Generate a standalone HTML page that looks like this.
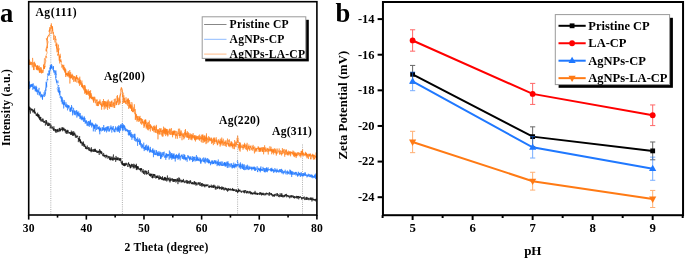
<!DOCTYPE html>
<html><head><meta charset="utf-8"><style>html,body{margin:0;padding:0;background:#fff;width:685px;height:259px;overflow:hidden}svg{display:block} #w{will-change:transform;width:685px;height:259px}</style></head><body><div id="w">
<svg width="685" height="259" viewBox="0 0 685 259">
<rect width="685" height="259" fill="#fff"/>
<line x1="50.8" y1="33" x2="50.8" y2="214.0" stroke="#9a9a9a" stroke-width="0.8" stroke-dasharray="1,1.2"/>
<line x1="122.4" y1="92" x2="122.4" y2="214.0" stroke="#9a9a9a" stroke-width="0.8" stroke-dasharray="1,1.2"/>
<line x1="237.6" y1="135.5" x2="237.6" y2="214.0" stroke="#9a9a9a" stroke-width="0.8" stroke-dasharray="1,1.2"/>
<line x1="302.5" y1="144.5" x2="302.5" y2="214.0" stroke="#9a9a9a" stroke-width="0.8" stroke-dasharray="1,1.2"/>
<polyline points="28.97,112.25 29.13,106.48 29.28,110.18 29.47,108.92 29.57,109.04 29.78,109.31 29.88,107.03 30.05,109.25 30.21,108.43 30.35,113.64 30.51,109.75 30.63,109.00 30.76,109.07 30.94,108.56 31.07,108.05 31.24,108.86 31.42,109.93 31.54,109.00 31.69,110.48 31.83,109.00 31.99,109.26 32.14,111.14 32.10,110.01 32.48,108.88 32.43,109.48 32.77,110.57 32.82,112.50 33.19,109.93 33.32,110.16 33.34,111.90 33.47,109.73 33.70,110.66 34.00,112.32 34.10,112.13 34.11,111.71 34.29,112.62 34.63,108.44 34.29,113.44 34.77,111.15 34.71,110.46 35.20,113.08 35.07,113.80 35.28,112.55 35.28,111.95 35.60,113.52 35.86,113.61 36.15,115.62 35.85,114.99 36.13,114.49 36.94,115.82 36.64,114.36 36.65,113.65 36.87,115.73 36.62,115.88 37.30,115.04 37.27,114.48 37.22,115.90 37.69,112.65 37.62,116.78 37.72,116.69 38.06,114.18 38.20,116.46 38.24,115.33 38.44,117.63 38.43,114.30 38.57,115.85 39.01,118.03 39.21,118.74 39.25,114.75 39.40,116.98 39.45,118.17 39.63,117.15 39.69,120.05 40.17,116.73 40.03,118.81 40.30,117.21 40.40,120.44 40.38,118.80 40.94,118.52 40.80,116.99 40.91,121.39 41.16,120.39 41.20,120.54 41.45,121.16 41.52,120.27 41.80,119.14 41.90,119.04 41.94,119.14 42.28,121.95 42.37,118.51 42.41,119.70 42.68,120.14 42.84,120.92 43.10,121.46 43.03,119.28 43.32,118.78 43.39,121.04 43.60,122.67 43.68,122.20 43.85,121.62 44.04,121.06 44.05,121.92 44.13,121.35 44.45,122.78 44.56,120.86 44.76,122.13 44.95,121.92 45.03,122.84 45.30,122.54 45.35,125.55 45.51,124.34 45.72,124.44 45.85,120.12 45.95,122.34 46.11,122.08 46.21,123.57 46.37,120.13 46.56,124.51 46.74,124.44 46.83,121.54 47.05,122.01 47.25,122.30 47.41,123.42 47.45,124.23 47.66,126.06 47.78,123.32 47.94,124.59 48.10,123.89 48.23,125.96 48.40,124.75 48.51,125.60 48.64,122.61 48.82,123.78 48.98,123.07 49.17,126.03 49.27,125.04 49.44,123.90 49.63,123.78 49.65,125.02 49.83,123.60 50.13,123.54 50.17,125.62 50.06,128.40 50.71,125.33 50.60,125.25 50.52,124.79 51.38,124.89 50.75,127.53 51.21,128.24 51.20,127.50 51.52,128.22 51.68,128.01 51.76,128.11 51.95,126.10 52.10,127.51 52.20,128.29 52.47,127.24 52.56,127.69 52.69,127.33 52.82,128.01 52.98,129.56 53.16,128.06 53.28,128.44 53.52,129.72 53.46,129.58 53.63,130.96 53.89,126.30 53.95,130.05 54.20,128.45 54.32,129.29 54.53,130.24 54.68,130.61 54.88,130.63 55.00,129.59 55.17,131.48 55.28,129.18 55.46,129.43 55.58,130.67 55.67,129.06 55.78,132.52 55.94,131.16 56.18,132.67 56.17,129.99 56.46,129.61 56.56,130.37 56.79,131.15 56.91,129.57 57.04,130.76 57.20,130.25 57.32,132.28 57.50,129.41 57.66,131.53 57.78,129.41 57.96,129.00 58.10,129.29 58.25,128.68 58.38,130.34 58.56,131.43 58.71,130.33 58.85,130.89 58.99,132.13 59.16,130.42 59.32,130.31 59.46,129.71 59.61,128.02 59.74,130.97 59.90,127.81 60.06,130.81 60.20,129.96 60.38,131.37 60.51,129.86 60.64,128.90 60.81,130.36 60.94,129.20 61.11,129.66 61.26,129.92 61.40,129.69 61.55,129.61 61.69,128.79 61.85,129.58 61.99,127.13 62.17,129.59 62.31,128.27 62.45,131.15 62.58,131.33 62.78,127.29 62.90,129.89 63.06,129.56 63.21,128.46 63.36,130.48 63.49,129.29 63.73,127.71 63.81,129.63 63.90,129.83 64.08,130.20 64.15,128.58 64.43,130.94 64.58,131.14 64.78,128.83 64.94,129.49 64.97,130.27 65.17,129.71 65.34,132.65 65.49,130.78 65.58,129.30 65.79,129.63 65.92,130.59 66.11,133.59 66.20,130.54 66.34,130.98 66.48,131.51 66.64,130.87 66.77,133.84 66.94,130.38 67.13,132.04 67.28,131.38 67.47,132.01 67.61,129.83 67.74,133.58 67.80,131.28 68.03,131.54 68.21,130.39 68.24,130.71 68.40,132.39 68.56,132.98 68.70,132.75 68.89,133.38 69.01,132.83 69.22,132.04 69.29,133.11 69.50,132.87 69.63,132.07 69.75,133.17 70.01,133.93 70.10,132.68 70.28,132.01 70.39,133.42 70.59,134.96 70.74,132.39 70.85,132.60 70.91,132.61 71.20,134.38 71.34,130.62 71.46,133.44 71.62,134.53 71.76,132.09 71.91,135.04 72.00,133.91 72.20,132.62 72.37,133.62 72.47,131.52 72.60,132.79 72.90,135.85 72.98,132.51 73.09,136.00 73.23,133.66 73.27,135.07 73.48,133.95 73.69,131.15 73.98,133.33 73.77,134.43 74.07,132.90 74.53,132.80 74.54,135.09 74.66,133.97 74.90,132.81 74.89,134.22 75.04,136.30 75.29,134.78 75.46,136.68 75.38,137.57 75.84,135.85 75.60,134.54 75.88,134.47 76.47,136.21 76.20,137.50 76.48,136.88 76.44,137.37 76.67,136.28 76.77,137.36 76.96,136.54 77.23,136.87 77.51,135.81 77.56,135.60 77.79,137.11 77.70,136.48 78.08,136.81 78.12,138.99 78.39,138.17 78.30,142.12 78.48,139.82 78.86,138.05 78.90,140.00 78.97,139.65 79.01,138.53 79.24,140.95 79.48,138.78 79.66,136.11 79.63,141.11 79.81,139.53 80.07,142.34 80.00,139.85 80.44,139.37 80.45,142.96 80.59,139.86 80.40,141.64 80.67,143.38 80.90,141.89 81.12,141.83 81.19,142.24 81.55,143.34 81.67,141.47 81.76,143.42 81.66,143.56 82.29,145.93 82.21,142.75 82.48,142.20 82.46,144.43 82.70,143.18 82.94,144.20 83.03,144.17 83.28,145.63 83.28,143.51 83.71,144.38 83.35,141.47 83.68,143.72 84.03,146.92 84.02,144.31 84.14,144.45 84.11,143.97 84.66,146.38 84.40,146.04 84.87,144.50 84.97,146.99 85.21,146.64 85.44,147.43 85.31,145.85 85.44,148.99 85.66,147.49 85.66,147.00 86.06,146.60 86.12,147.02 86.31,148.48 86.38,147.15 86.60,148.91 86.71,148.36 86.89,149.40 86.98,148.81 87.26,147.79 87.31,145.56 87.34,148.39 87.69,149.08 87.78,148.38 87.89,148.95 88.25,147.74 88.24,147.93 88.32,147.30 88.51,150.26 88.72,148.83 88.83,148.10 89.07,147.12 89.21,148.68 89.25,150.75 89.45,149.60 89.64,148.19 89.72,150.96 89.88,151.02 90.09,150.52 90.22,150.33 90.29,150.85 90.47,150.14 90.63,150.48 90.79,148.59 90.92,151.50 91.16,149.97 91.21,152.26 91.35,147.24 91.56,150.73 91.60,151.13 91.80,149.53 92.03,150.58 92.09,151.00 92.26,150.84 92.50,149.50 92.62,150.05 92.75,151.56 92.91,151.94 93.02,150.52 93.21,150.55 93.34,150.76 93.60,151.86 93.67,149.29 93.79,148.98 93.95,150.83 94.10,149.32 94.22,150.00 94.38,150.87 94.59,151.40 94.66,149.49 94.83,151.86 95.02,148.67 95.19,151.60 95.27,148.98 95.49,149.39 95.59,151.82 95.79,150.54 95.91,150.08 96.04,150.55 96.22,151.72 96.36,151.10 96.48,151.16 96.70,152.55 96.79,150.37 96.98,150.70 97.09,150.67 97.20,152.82 97.37,152.63 97.55,153.03 97.72,151.41 97.89,151.28 98.00,152.58 98.14,151.05 98.27,152.61 98.45,152.51 98.61,150.76 98.69,151.56 98.93,151.55 99.08,153.89 99.26,154.99 99.31,151.66 99.50,151.88 99.65,149.10 99.70,152.31 99.89,152.13 100.03,150.89 100.29,153.31 100.43,150.46 100.65,152.25 100.67,152.78 100.74,151.14 101.03,153.86 101.18,154.21 101.35,151.25 101.54,151.31 101.55,153.92 101.81,153.22 101.82,151.84 102.06,153.08 102.25,153.40 102.34,153.45 102.51,154.76 102.54,154.30 102.75,156.12 102.96,155.72 103.01,154.94 103.18,155.54 103.58,155.94 103.57,155.26 103.64,152.94 103.77,155.64 104.10,154.75 103.94,156.77 104.27,154.96 104.49,155.59 104.55,155.44 104.78,157.22 104.81,155.44 105.04,154.97 105.20,155.79 105.34,154.93 105.50,155.77 105.64,155.64 105.87,156.07 105.92,158.22 106.05,155.39 106.22,156.03 106.37,155.81 106.44,156.99 106.56,154.75 106.75,155.44 107.01,156.34 107.10,157.16 107.26,156.50 107.63,156.02 107.67,155.64 107.73,157.45 107.85,158.69 108.13,157.38 108.14,157.29 108.42,157.69 108.53,156.04 108.73,156.91 108.74,157.05 109.00,157.84 108.97,157.51 109.23,156.11 109.46,159.12 109.59,159.92 109.57,157.55 109.89,158.46 110.02,158.38 110.14,159.11 110.24,156.36 110.42,160.31 110.55,157.79 110.80,160.04 110.92,158.65 111.07,158.11 111.20,158.43 111.35,159.73 111.50,157.53 111.65,158.14 111.80,158.01 111.95,156.47 112.10,160.24 112.25,159.34 112.40,158.59 112.55,160.07 112.70,157.43 112.85,158.53 113.00,160.78 113.15,159.85 113.30,155.85 113.45,154.47 113.60,157.34 113.75,159.96 113.90,158.05 114.05,158.37 114.20,159.40 114.35,157.54 114.50,158.91 114.65,159.64 114.80,159.23 114.95,159.15 115.10,157.90 115.25,159.30 115.40,158.12 115.55,160.29 115.70,161.87 115.85,157.74 116.00,155.95 116.15,158.14 116.30,159.14 116.45,159.98 116.60,160.02 116.75,157.69 116.90,157.69 117.05,160.26 117.20,157.32 117.35,160.05 117.50,158.40 117.65,159.64 117.80,159.57 117.95,159.66 118.10,159.72 118.25,157.46 118.40,159.07 118.55,158.72 118.68,159.09 118.72,160.35 119.04,158.59 119.13,158.15 119.34,158.24 119.45,158.87 119.46,160.32 119.60,158.47 119.93,161.05 119.89,160.08 120.21,159.54 120.42,158.27 120.37,160.36 120.70,161.03 120.79,158.07 120.99,161.88 120.93,162.56 121.21,161.40 121.53,162.07 122.22,164.95 121.95,163.95 122.01,161.76 121.47,163.34 122.22,163.64 122.24,163.82 122.45,161.08 122.60,165.00 122.76,163.28 122.91,164.30 123.05,163.95 123.20,165.22 123.37,163.79 123.48,163.18 123.65,164.86 123.82,165.97 123.95,163.84 124.11,165.97 124.26,164.61 124.43,163.63 124.57,166.23 124.67,163.32 124.85,165.63 125.00,163.76 125.16,164.96 125.31,162.88 125.48,163.39 125.62,165.79 125.73,164.72 125.89,164.55 126.02,163.97 126.23,165.10 126.35,162.82 126.50,163.18 126.62,164.41 126.79,163.58 126.96,163.77 127.09,164.58 127.24,164.51 127.39,164.43 127.58,166.81 127.69,166.01 127.82,166.30 127.99,164.75 128.14,164.18 128.30,163.01 128.44,164.41 128.58,162.26 128.74,164.16 128.90,165.87 129.02,166.96 129.23,166.16 129.37,163.89 129.47,165.61 129.64,164.03 129.81,166.06 129.97,164.91 130.13,166.15 130.20,168.31 130.35,166.29 130.52,168.11 130.72,165.47 130.79,164.89 131.01,167.03 131.16,167.58 131.32,164.78 131.38,165.63 131.60,163.80 131.75,165.40 131.87,166.81 132.10,165.65 132.18,165.10 132.41,164.11 132.47,166.39 132.72,166.98 132.87,166.79 132.91,166.42 133.11,164.56 133.26,168.41 133.35,166.20 133.58,166.14 133.72,167.30 133.80,163.73 134.00,166.41 134.19,166.38 134.29,167.07 134.41,168.35 134.67,167.31 134.70,164.49 134.91,166.41 135.10,167.15 135.23,167.13 135.26,165.40 135.48,164.98 135.64,167.80 135.79,167.60 135.98,167.20 136.12,165.13 136.25,169.56 136.41,163.77 136.59,167.00 136.76,170.12 136.76,167.37 137.10,167.91 137.12,166.21 137.33,169.43 137.37,166.18 137.58,168.17 137.69,168.07 137.95,166.65 138.11,169.14 138.20,166.36 138.33,167.37 138.53,168.29 138.57,167.91 138.75,169.11 138.89,169.78 139.16,168.35 139.25,168.14 139.30,168.27 139.58,168.56 139.74,170.13 139.96,168.94 139.95,169.82 140.18,169.29 140.46,168.45 140.42,170.68 140.57,168.41 140.79,169.81 140.86,171.76 141.05,168.63 141.16,170.03 141.29,168.21 141.57,169.66 141.62,168.52 141.72,170.04 141.93,169.92 142.09,170.85 142.27,172.76 142.47,171.24 142.69,171.80 142.60,171.02 142.83,170.87 142.85,170.23 143.17,169.12 143.34,171.56 143.40,173.61 143.52,172.26 143.68,171.10 143.81,173.91 144.08,171.37 144.30,171.21 144.29,170.53 144.59,170.91 144.64,171.87 144.72,174.75 144.98,172.06 145.14,171.09 145.27,171.69 145.38,172.24 145.64,170.45 145.68,172.81 145.88,173.60 146.03,173.19 146.10,173.61 146.20,171.31 146.35,170.87 146.57,174.66 146.77,174.49 146.80,171.27 147.01,173.52 147.28,173.36 147.25,174.07 147.52,173.72 147.66,172.90 147.84,173.84 147.86,173.86 148.11,173.67 148.17,171.48 148.47,170.12 148.50,172.94 148.72,171.96 148.80,174.38 149.00,175.03 149.06,174.53 149.31,173.81 149.48,174.42 149.59,175.86 149.83,173.56 149.91,175.69 150.09,175.49 150.22,175.00 150.45,176.55 150.46,173.91 150.63,176.05 150.78,173.78 150.98,174.05 151.11,173.76 151.29,175.70 151.41,174.04 151.52,175.34 151.69,173.92 151.86,176.71 151.90,177.72 152.21,175.77 152.27,177.59 152.43,176.29 152.61,178.34 152.74,175.83 152.83,173.81 153.04,177.66 153.26,175.70 153.39,174.63 153.55,175.15 153.62,174.01 153.79,175.86 153.99,174.80 154.16,178.01 154.25,177.05 154.36,174.23 154.47,174.47 154.76,175.69 154.78,174.07 155.02,176.36 155.19,176.49 155.44,175.65 155.46,175.98 155.59,177.32 155.77,178.50 155.92,178.65 156.11,176.90 156.23,177.96 156.32,176.06 156.41,177.52 156.66,175.89 156.77,178.02 157.01,175.66 157.04,176.05 157.26,177.27 157.37,178.02 157.51,175.63 157.77,176.78 157.86,177.66 157.99,177.82 158.18,176.57 158.27,177.77 158.43,177.38 158.57,179.47 158.84,178.49 158.91,176.25 159.08,175.23 159.24,178.09 159.35,179.45 159.50,178.24 159.62,179.12 159.81,177.47 159.95,176.42 160.09,179.01 160.27,178.24 160.37,178.97 160.56,176.48 160.68,178.40 160.83,177.44 161.00,179.19 161.17,177.53 161.28,177.51 161.43,177.56 161.58,179.82 161.78,178.34 161.91,177.41 162.06,177.11 162.23,177.10 162.35,180.15 162.47,176.21 162.64,177.39 162.78,179.21 162.98,179.88 163.08,178.30 163.25,179.44 163.39,179.43 163.54,179.72 163.70,178.61 163.85,180.56 163.99,178.85 164.13,180.46 164.29,177.33 164.43,179.80 164.59,177.18 164.75,176.91 164.90,179.33 165.06,177.76 165.20,179.31 165.38,177.51 165.49,180.74 165.63,178.85 165.82,177.51 165.94,179.09 166.10,179.95 166.27,178.00 166.40,179.56 166.54,181.40 166.71,180.02 166.85,178.99 166.99,178.34 167.13,179.73 167.29,177.26 167.42,175.47 167.59,178.31 167.73,177.83 167.90,181.21 168.06,179.33 168.19,178.01 168.34,177.82 168.48,179.81 168.63,178.26 168.79,178.57 168.96,179.17 169.11,179.40 169.26,179.43 169.40,179.47 169.51,180.90 169.71,181.39 169.87,177.45 170.01,182.46 170.16,179.59 170.32,180.93 170.49,178.61 170.60,179.88 170.77,179.77 170.91,179.67 171.06,180.56 171.20,180.32 171.34,178.41 171.48,179.47 171.66,180.49 171.80,180.46 171.93,179.28 172.09,179.36 172.23,179.53 172.42,178.43 172.55,178.24 172.70,181.60 172.83,179.32 172.98,179.91 173.17,178.94 173.30,181.35 173.45,181.90 173.63,179.62 173.78,180.49 173.91,179.03 174.06,181.99 174.20,181.03 174.35,178.99 174.53,181.44 174.63,180.43 174.80,180.51 174.92,180.46 175.08,179.28 175.26,179.45 175.41,180.83 175.56,180.07 175.69,179.05 175.83,182.53 175.99,179.96 176.14,179.58 176.32,179.44 176.48,181.08 176.61,181.43 176.74,180.61 176.88,181.36 177.06,178.65 177.20,179.97 177.31,179.89 177.53,180.46 177.65,181.04 177.79,178.15 177.93,184.13 178.08,179.55 178.27,180.97 178.38,181.55 178.55,181.61 178.71,180.93 178.89,177.33 179.01,179.45 179.15,181.59 179.29,179.69 179.47,179.56 179.62,178.09 179.74,182.21 179.91,181.42 180.05,179.84 180.17,180.73 180.33,180.79 180.52,179.66 180.68,180.64 180.81,181.27 180.95,181.63 181.08,182.47 181.26,181.08 181.41,180.55 181.52,181.56 181.71,180.40 181.83,179.72 182.01,182.47 182.16,180.76 182.32,181.36 182.47,181.98 182.62,180.01 182.73,182.02 182.88,181.83 183.07,181.24 183.21,181.82 183.32,180.54 183.46,178.93 183.67,181.13 183.85,180.44 183.97,182.48 184.09,181.82 184.26,180.95 184.34,181.63 184.53,183.13 184.72,182.91 184.87,182.07 184.95,182.16 185.18,181.39 185.31,181.58 185.47,182.42 185.60,181.65 185.75,182.14 185.88,180.58 186.06,179.98 186.22,179.97 186.33,181.42 186.51,183.42 186.64,183.29 186.82,180.87 186.97,180.27 187.05,182.92 187.26,182.58 187.42,180.55 187.54,183.30 187.70,182.33 187.85,183.64 187.98,182.57 188.15,183.21 188.33,182.60 188.46,181.20 188.63,182.03 188.77,181.56 188.93,183.27 189.05,181.26 189.22,180.69 189.39,183.18 189.53,183.72 189.66,184.08 189.79,183.71 189.93,180.85 190.11,181.77 190.26,181.96 190.36,182.57 190.55,180.23 190.71,182.64 190.86,182.98 190.99,181.65 191.20,182.85 191.32,184.07 191.42,182.82 191.58,183.97 191.77,183.94 191.91,183.30 192.05,183.30 192.20,182.49 192.35,184.30 192.49,182.43 192.63,182.21 192.81,183.78 192.89,182.23 193.08,183.52 193.28,184.24 193.38,183.20 193.52,183.25 193.74,184.17 193.87,184.01 194.00,181.52 194.14,181.80 194.29,184.72 194.44,183.72 194.59,181.04 194.73,181.87 194.91,183.40 195.04,182.33 195.16,183.94 195.32,183.54 195.50,184.02 195.63,182.24 195.74,184.21 195.98,185.70 196.11,182.73 196.24,185.05 196.39,184.72 196.56,184.38 196.73,183.63 196.83,182.47 197.01,182.81 197.13,184.62 197.31,184.88 197.42,185.17 197.56,184.91 197.75,184.87 197.90,183.45 198.06,182.64 198.18,184.20 198.38,184.55 198.50,184.13 198.68,182.42 198.79,183.53 198.98,182.52 199.10,184.30 199.25,183.04 199.42,184.02 199.51,184.57 199.67,184.40 199.89,185.75 199.96,183.12 200.14,181.99 200.31,185.38 200.48,185.89 200.59,185.95 200.75,184.75 200.87,185.05 201.04,184.63 201.22,183.14 201.36,183.94 201.50,185.11 201.66,183.99 201.80,186.68 201.95,183.02 202.09,184.23 202.23,185.90 202.41,184.10 202.52,183.57 202.72,183.35 202.90,184.05 203.03,186.46 203.20,185.32 203.28,185.46 203.45,184.39 203.58,185.86 203.73,185.11 203.86,184.04 204.02,184.57 204.22,185.29 204.36,186.34 204.53,185.07 204.67,185.69 204.82,187.32 204.93,184.37 205.10,183.93 205.27,186.31 205.43,185.76 205.54,185.22 205.69,185.63 205.84,185.03 206.04,185.95 206.16,185.08 206.29,186.30 206.43,184.25 206.61,184.65 206.71,185.66 206.89,185.07 207.04,186.33 207.19,185.58 207.35,185.08 207.51,185.90 207.72,185.15 207.80,184.10 207.97,184.57 208.08,184.95 208.21,185.32 208.43,185.94 208.59,186.82 208.68,186.47 208.85,187.78 209.03,187.28 209.15,185.79 209.25,187.73 209.47,187.27 209.60,185.59 209.77,186.42 209.88,187.26 210.07,186.40 210.22,187.23 210.33,186.61 210.51,186.96 210.64,185.93 210.79,186.68 210.93,185.94 211.09,187.04 211.24,184.62 211.43,186.74 211.55,187.72 211.68,187.05 211.88,186.45 212.01,187.06 212.17,185.66 212.30,185.70 212.47,186.22 212.60,186.46 212.73,187.64 212.90,185.75 213.05,187.72 213.20,185.10 213.37,185.94 213.46,186.74 213.66,187.99 213.78,186.20 213.94,184.66 214.11,187.31 214.25,186.88 214.39,185.82 214.57,185.89 214.70,186.27 214.87,187.11 215.03,187.71 215.14,185.55 215.28,189.42 215.45,187.07 215.62,186.76 215.76,187.85 215.88,187.30 216.02,189.59 216.18,188.36 216.33,186.89 216.51,186.89 216.65,186.81 216.82,186.99 216.95,188.05 217.14,186.74 217.25,189.05 217.41,187.36 217.54,187.32 217.71,188.46 217.87,185.52 218.02,186.60 218.18,188.18 218.29,187.61 218.46,187.61 218.64,188.05 218.76,187.07 218.90,187.53 219.05,186.35 219.19,185.86 219.35,189.05 219.53,186.86 219.66,187.10 219.80,189.25 219.93,188.94 220.08,187.37 220.30,187.39 220.39,187.87 220.55,187.02 220.69,188.55 220.85,188.17 220.99,188.18 221.15,188.83 221.33,188.82 221.44,189.97 221.61,189.67 221.75,186.47 221.92,189.10 222.04,187.12 222.21,186.83 222.33,188.99 222.46,187.61 222.62,188.02 222.78,189.42 222.93,187.73 223.09,187.52 223.27,188.76 223.38,189.68 223.56,189.01 223.70,186.97 223.84,187.89 223.98,188.41 224.16,190.50 224.31,189.50 224.44,189.48 224.60,189.86 224.75,188.39 224.87,189.19 225.05,189.23 225.21,187.81 225.39,188.78 225.47,189.38 225.63,187.78 225.80,189.67 225.94,189.64 226.09,189.94 226.25,188.19 226.39,189.08 226.55,190.43 226.71,189.80 226.82,188.28 227.01,189.30 227.10,190.49 227.34,189.05 227.47,189.53 227.59,191.69 227.77,189.17 227.90,189.12 228.06,188.27 228.22,188.64 228.36,190.75 228.50,189.19 228.66,188.20 228.80,188.47 228.94,189.41 229.08,190.18 229.21,188.73 229.43,190.17 229.57,189.03 229.67,189.88 229.86,190.06 230.00,190.17 230.10,189.18 230.28,189.46 230.45,190.14 230.64,188.42 230.77,189.87 230.93,190.22 231.06,190.76 231.22,189.74 231.33,189.62 231.51,189.96 231.67,189.14 231.77,189.67 231.96,190.29 232.13,190.19 232.29,188.94 232.43,189.65 232.54,187.96 232.70,190.78 232.84,189.53 233.03,190.29 233.13,189.03 233.28,190.03 233.42,190.56 233.60,191.09 233.76,188.87 233.89,191.00 234.04,190.06 234.20,189.50 234.38,190.72 234.48,190.00 234.65,190.02 234.80,189.66 234.96,190.56 235.12,190.40 235.27,190.23 235.41,189.51 235.58,189.95 235.72,190.84 235.86,191.69 236.01,190.48 236.13,191.87 236.30,190.54 236.44,189.54 236.58,191.19 236.75,189.70 236.87,191.02 237.03,191.67 237.19,190.39 237.36,190.62 237.49,193.05 237.66,190.98 237.83,191.02 237.97,191.53 238.08,190.73 238.22,190.76 238.38,191.22 238.53,188.64 238.66,192.24 238.82,189.93 238.97,189.94 239.14,191.48 239.33,191.02 239.48,189.85 239.58,191.24 239.74,190.00 239.87,190.44 240.02,189.71 240.20,190.36 240.35,191.53 240.49,191.30 240.66,191.49 240.79,192.08 240.97,191.21 241.09,190.66 241.26,191.03 241.39,192.85 241.55,191.37 241.71,191.66 241.82,191.29 241.99,191.63 242.15,191.83 242.29,191.44 242.45,191.33 242.58,190.77 242.72,190.74 242.90,191.92 243.05,192.25 243.18,192.44 243.37,191.66 243.51,190.87 243.66,192.23 243.81,192.24 243.93,190.32 244.14,192.46 244.24,192.28 244.41,193.30 244.56,190.76 244.71,190.64 244.85,192.55 244.98,190.21 245.14,191.21 245.30,190.90 245.47,191.00 245.59,190.21 245.76,191.75 245.91,192.88 246.05,192.42 246.19,192.45 246.35,191.74 246.47,193.40 246.65,192.59 246.81,193.09 246.94,190.75 247.11,192.49 247.26,191.16 247.39,192.54 247.57,192.43 247.69,191.25 247.89,192.45 247.98,193.37 248.14,192.79 248.29,192.90 248.46,191.61 248.62,191.80 248.75,191.43 248.89,192.58 249.09,193.55 249.22,192.89 249.35,192.52 249.50,191.54 249.62,192.97 249.80,192.38 249.98,190.91 250.08,191.09 250.23,192.36 250.40,191.88 250.51,194.19 250.73,192.76 250.82,191.82 250.99,192.34 251.15,194.23 251.32,191.97 251.46,193.53 251.57,193.26 251.72,194.20 251.90,193.39 252.01,192.58 252.20,193.43 252.34,193.04 252.51,193.88 252.66,192.96 252.78,194.80 252.95,192.95 253.11,193.45 253.24,192.48 253.39,193.19 253.54,193.11 253.70,193.25 253.85,193.92 254.01,192.65 254.16,192.38 254.30,194.14 254.44,192.91 254.61,192.58 254.72,194.22 254.89,193.89 255.06,190.85 255.22,192.89 255.34,193.93 255.50,193.99 255.64,192.80 255.80,194.67 255.95,192.58 256.09,193.09 256.25,193.42 256.40,193.32 256.55,194.05 256.70,194.25 256.84,193.32 257.00,194.61 257.16,192.77 257.29,193.20 257.46,194.94 257.60,193.50 257.75,194.38 257.90,193.06 258.05,193.22 258.19,193.37 258.36,193.63 258.51,193.19 258.65,193.52 258.80,194.11 258.95,194.60 259.11,193.64 259.26,194.13 259.39,194.37 259.55,192.62 259.70,192.19 259.86,195.04 260.01,194.78 260.14,193.68 260.28,193.95 260.45,192.81 260.59,192.43 260.77,193.95 260.89,192.36 261.05,194.50 261.20,193.10 261.35,193.97 261.50,195.44 261.65,195.41 261.81,193.51 261.95,194.71 262.12,192.86 262.25,193.27 262.38,194.13 262.56,195.04 262.68,193.31 262.85,194.31 263.02,193.93 263.16,192.73 263.29,193.75 263.44,195.20 263.60,193.81 263.76,194.34 263.89,194.64 264.06,193.27 264.20,195.02 264.35,195.28 264.50,195.37 264.67,195.13 264.79,193.57 264.94,193.47 265.11,193.31 265.26,193.21 265.39,193.32 265.54,194.91 265.69,195.34 265.86,193.49 265.99,194.79 266.16,192.96 266.31,193.80 266.45,193.22 266.60,192.67 266.76,194.17 266.91,194.20 267.05,193.79 267.20,193.69 267.36,193.30 267.50,194.06 267.66,193.66 267.80,194.41 267.94,193.15 268.10,194.42 268.27,194.69 268.41,195.35 268.54,195.19 268.70,194.44 268.85,193.68 269.00,192.67 269.15,194.30 269.30,195.56 269.45,195.79 269.60,192.09 269.75,193.68 269.89,194.05 270.04,193.45 270.19,194.55 270.34,194.43 270.51,193.95 270.64,194.39 270.80,193.02 270.95,193.58 271.11,193.66 271.25,195.26 271.41,193.04 271.55,194.30 271.70,195.18 271.86,194.46 271.98,195.24 272.15,193.96 272.32,194.94 272.45,195.37 272.60,196.55 272.77,195.24 272.90,195.87 273.06,194.64 273.17,194.73 273.35,196.04 273.49,195.19 273.65,195.94 273.81,195.33 273.95,196.59 274.10,196.83 274.22,194.01 274.41,196.40 274.57,195.16 274.70,195.22 274.84,194.71 275.00,195.46 275.16,193.86 275.31,194.22 275.47,194.20 275.59,195.14 275.73,195.71 275.91,195.57 276.06,195.26 276.19,194.43 276.35,193.41 276.49,195.33 276.64,195.12 276.79,195.32 276.93,196.28 277.10,194.88 277.26,194.88 277.41,193.03 277.54,195.57 277.69,195.05 277.83,194.46 277.98,195.47 278.16,194.22 278.33,194.68 278.44,196.89 278.60,195.84 278.76,196.01 278.89,195.87 279.06,195.79 279.20,195.41 279.35,197.26 279.51,195.20 279.65,195.93 279.79,195.11 279.96,195.00 280.10,193.19 280.24,193.65 280.39,196.71 280.56,196.67 280.69,195.00 280.85,195.37 281.01,195.95 281.15,194.55 281.31,196.99 281.43,194.54 281.61,194.83 281.76,193.06 281.92,196.82 282.05,195.56 282.21,196.94 282.35,194.66 282.49,195.85 282.64,195.63 282.79,195.75 282.96,197.41 283.09,197.59 283.25,196.83 283.41,195.28 283.56,196.43 283.71,196.84 283.87,196.17 283.99,196.19 284.14,196.13 284.30,194.93 284.46,195.95 284.61,197.15 284.74,194.89 284.90,195.85 285.03,196.52 285.21,194.61 285.33,195.70 285.50,194.35 285.66,195.32 285.81,194.63 285.93,195.09 286.10,195.46 286.25,195.66 286.40,195.74 286.57,193.83 286.70,197.33 286.83,195.72 286.99,195.02 287.16,195.44 287.30,196.27 287.43,195.15 287.57,195.68 287.74,195.65 287.89,196.55 288.06,195.45 288.19,196.51 288.36,196.44 288.52,196.03 288.62,197.26 288.79,196.21 288.97,195.19 289.09,196.49 289.25,196.36 289.41,196.24 289.54,196.50 289.69,198.36 289.82,196.54 290.01,196.75 290.14,196.16 290.29,197.53 290.41,196.36 290.61,195.73 290.76,195.39 290.89,196.93 291.07,197.14 291.16,195.13 291.35,195.90 291.47,197.10 291.69,197.46 291.76,195.44 291.93,196.25 292.09,197.35 292.26,196.18 292.41,196.27 292.56,196.21 292.70,195.57 292.88,196.76 292.99,197.00 293.15,195.54 293.33,196.87 293.43,197.76 293.59,197.00 293.77,197.66 293.91,196.38 294.03,198.06 294.20,196.21 294.38,198.55 294.49,196.55 294.66,196.33 294.80,196.20 294.94,196.64 295.12,196.59 295.26,196.44 295.42,196.77 295.55,197.65 295.70,197.85 295.85,196.82 296.01,198.20 296.14,196.29 296.29,196.28 296.47,196.21 296.58,197.73 296.74,195.89 296.89,196.04 297.04,198.37 297.18,198.77 297.34,198.47 297.51,196.03 297.64,197.35 297.79,198.08 297.97,197.46 298.08,196.00 298.26,197.12 298.40,195.97 298.53,196.39 298.69,199.34 298.84,198.08 299.02,196.25 299.16,196.24 299.29,197.95 299.43,197.05 299.57,198.09 299.75,197.05 299.88,197.46 300.05,197.86 300.20,196.78 300.35,196.03 300.51,196.68 300.65,197.13 300.81,197.57 300.95,197.72 301.11,197.73 301.26,198.25 301.42,197.06 301.57,199.05 301.69,199.59 301.83,198.20 302.01,198.06 302.17,198.99 302.29,198.50 302.47,198.12 302.60,197.83 302.75,197.36 302.90,197.01 303.03,198.61 303.17,199.08 303.34,197.17 303.48,198.03 303.65,198.30 303.80,197.77 303.91,197.50 304.09,197.83 304.26,196.50 304.36,198.16 304.54,197.98 304.68,200.07 304.82,199.07 305.02,197.99 305.16,198.30 305.29,199.80 305.44,199.73 305.62,198.53 305.77,198.28 305.90,197.17 306.06,198.14 306.20,198.30 306.34,197.83 306.51,199.97 306.64,196.89 306.81,198.41 306.94,198.89 307.09,198.94 307.24,200.03 307.40,197.40 307.56,197.98 307.70,198.72 307.83,198.77 308.01,198.35 308.13,198.04 308.28,199.64 308.44,197.84 308.61,198.26 308.76,200.01 308.91,200.28 309.07,199.56 309.21,198.10 309.34,198.12 309.51,198.10 309.64,197.92 309.80,198.56 309.96,200.02 310.10,199.14 310.23,198.32 310.40,198.32 310.54,198.00 310.70,200.06 310.84,197.32 310.98,199.30 311.12,197.85 311.31,198.20 311.46,197.85 311.60,199.96 311.75,199.09 311.93,201.52 312.06,198.31 312.20,198.28 312.36,199.74 312.50,199.73 312.66,199.03 312.80,197.57 312.96,200.54 313.10,199.81 313.24,199.69 313.41,198.86 313.57,199.93 313.68,198.92 313.84,199.46 313.98,199.28 314.16,200.53 314.30,199.08 314.46,199.20 314.59,200.46 314.76,199.73 314.89,199.53 315.04,199.36 315.21,200.40 315.34,199.05 315.49,200.03 315.66,201.37 315.80,200.00 315.97,199.01 316.14,198.68 316.24,199.85 316.39,198.69" fill="none" stroke="#111" stroke-width="0.55" stroke-linejoin="round"/>
<polyline points="29.00,86.24 29.16,84.94 29.30,85.12 29.45,81.45 29.60,89.06 29.75,87.87 29.91,85.20 30.06,87.16 30.19,86.26 30.37,84.73 30.49,87.47 30.65,85.13 30.80,85.08 30.92,84.23 31.09,86.46 31.26,85.44 31.41,86.58 31.53,84.49 31.69,85.79 31.83,83.94 32.00,87.04 32.15,85.84 32.17,86.18 32.48,86.46 32.61,84.03 32.74,87.39 32.83,89.81 33.03,83.29 33.02,83.26 33.37,83.79 33.52,88.15 33.64,86.99 33.68,88.83 34.08,88.32 34.22,87.53 34.06,87.80 34.44,87.11 34.57,89.11 34.44,85.64 34.90,87.05 35.07,88.38 35.22,91.31 35.32,86.82 35.37,86.41 35.54,87.50 35.81,90.41 36.04,88.40 35.99,91.36 36.17,85.76 36.43,91.32 36.24,91.30 36.70,87.04 36.77,90.03 36.69,92.09 37.19,90.22 37.14,92.01 37.50,94.64 37.72,91.02 37.55,90.18 37.71,89.45 38.00,92.16 37.94,90.79 38.40,90.98 38.48,91.30 38.75,92.86 38.47,89.96 38.93,89.32 39.12,87.89 38.93,94.62 39.49,92.79 39.29,95.57 39.68,93.03 39.60,91.90 40.07,94.29 40.36,93.49 40.26,91.56 40.41,92.42 40.75,97.39 40.63,95.04 40.86,95.39 41.16,94.39 41.24,93.88 41.60,96.97 41.68,95.42 41.97,94.48 41.76,95.85 42.12,94.70 41.91,96.92 42.38,98.85 42.69,95.55 42.51,99.87 42.44,95.87 42.78,97.12 43.09,95.10 42.96,95.98 43.36,96.24 43.51,95.14 43.48,94.42 43.62,94.24 43.70,93.75 44.12,92.17 44.70,94.01 44.46,94.68 45.61,95.08 44.04,94.09 44.55,96.83 45.21,92.46 44.63,90.54 45.41,94.22 45.94,88.29 45.71,90.94 45.55,86.51 46.59,87.89 46.34,82.73 46.73,86.92 46.69,84.04 46.07,81.80 46.01,85.89 46.55,83.56 47.00,81.59 46.95,79.48 47.71,80.06 47.49,79.17 48.02,80.09 47.71,79.54 47.43,76.26 48.37,75.83 48.34,75.22 47.82,73.11 48.19,73.84 49.94,74.10 46.99,74.87 49.41,75.36 49.02,70.89 49.10,72.70 49.14,70.27 49.20,74.16 50.35,69.81 49.61,70.49 49.79,67.60 50.21,67.51 50.26,69.03 50.27,67.66 50.39,68.68 50.29,64.93 51.03,68.62 50.66,65.50 50.47,69.91 51.39,65.99 51.39,68.35 51.57,64.11 51.56,67.63 52.03,65.50 51.75,66.46 51.69,67.61 52.29,67.24 52.56,68.52 52.67,69.63 53.10,69.70 53.01,68.60 52.96,66.55 53.11,67.85 53.51,69.23 53.44,66.06 53.57,71.53 53.35,70.04 53.83,70.31 53.75,72.76 54.26,72.55 54.39,72.04 54.67,70.13 55.07,72.79 54.76,73.14 55.29,71.22 54.84,74.99 55.31,74.32 55.87,70.40 56.59,74.82 55.13,72.99 55.73,77.97 56.09,78.04 56.11,75.26 55.81,76.32 55.60,78.76 55.96,78.81 56.72,82.64 56.17,81.89 58.18,80.78 58.05,83.18 56.06,79.34 57.18,84.41 58.57,86.27 58.80,85.25 58.73,85.15 57.13,88.30 58.01,91.67 59.10,89.37 58.60,87.48 58.53,92.60 59.06,87.12 59.40,91.91 59.21,90.45 59.40,93.68 59.89,90.97 59.38,95.38 59.39,94.04 60.21,90.89 59.58,90.95 60.40,94.43 60.06,97.83 60.81,96.23 60.27,96.52 61.17,96.38 61.05,98.53 61.01,98.29 60.98,98.51 61.35,96.64 61.26,100.95 61.32,101.67 62.20,97.28 62.20,104.16 62.55,101.72 61.87,99.95 61.83,97.80 62.09,102.81 62.96,103.03 63.13,101.36 62.71,99.53 63.32,104.92 63.30,101.98 63.36,102.34 63.64,108.46 63.87,107.31 63.93,105.35 64.08,102.96 64.15,105.09 64.23,99.96 64.51,104.41 64.51,103.00 64.92,102.20 64.90,101.81 65.30,105.75 65.11,105.11 65.62,105.39 65.50,106.76 65.65,103.87 65.93,103.31 66.16,102.49 66.19,105.23 66.31,107.35 66.73,105.86 66.71,107.43 66.66,104.29 66.92,105.72 67.30,105.33 67.29,104.61 67.50,110.35 67.79,108.69 67.64,105.93 67.88,106.02 67.95,107.40 68.15,105.01 68.34,108.49 68.34,105.48 68.61,107.24 68.76,106.16 68.99,107.24 69.00,105.81 69.10,105.48 69.38,106.67 69.41,107.29 69.66,108.08 69.85,108.84 69.88,111.56 70.09,110.38 70.17,108.56 70.17,110.43 70.43,107.98 70.53,111.93 70.85,110.41 70.91,107.08 71.14,110.98 71.29,111.20 71.54,104.99 71.57,108.58 71.72,109.18 71.94,106.66 72.18,108.31 72.19,108.63 72.38,111.35 72.48,111.09 72.59,115.39 72.66,110.06 72.94,112.96 73.07,111.14 73.23,111.59 73.58,109.13 73.52,107.89 73.73,110.06 73.82,112.92 74.10,114.51 74.12,112.86 74.47,112.78 74.43,110.49 74.67,114.87 74.84,114.64 74.88,111.37 75.13,112.36 75.20,110.76 75.29,115.30 75.45,113.49 75.67,112.68 75.93,113.68 75.91,113.83 76.14,112.39 76.19,110.99 76.42,111.01 76.45,110.28 76.64,114.33 76.85,117.59 76.94,110.63 77.13,114.03 77.37,114.61 77.44,112.19 77.55,114.43 77.66,112.18 77.86,116.40 78.13,113.27 78.19,114.61 78.34,115.75 78.55,113.84 78.71,111.48 78.87,113.84 78.92,116.26 79.03,114.83 79.13,115.49 79.35,113.22 79.52,115.52 79.75,116.66 79.87,115.51 79.95,118.97 80.25,115.28 80.13,113.95 80.31,113.07 80.44,118.23 80.60,116.21 80.87,118.30 80.94,117.47 81.10,119.74 81.53,119.26 81.30,116.47 81.51,117.80 81.77,119.43 82.01,115.42 82.16,120.42 82.21,120.15 82.35,119.91 82.51,117.94 82.80,119.01 82.73,116.62 82.69,118.90 83.17,117.91 83.14,119.29 83.44,118.41 83.78,119.97 83.76,121.75 84.14,117.44 83.84,121.62 84.23,116.54 84.40,116.40 84.61,120.24 84.55,120.63 84.82,121.58 84.96,117.99 85.11,121.01 85.07,121.51 85.17,123.71 85.62,121.43 85.75,122.73 85.85,120.19 86.05,121.71 86.22,121.33 86.23,123.47 86.50,120.51 86.69,120.86 86.81,123.48 86.94,125.74 87.09,123.29 87.11,123.22 87.32,122.13 87.56,124.79 87.74,123.88 87.83,126.11 87.92,123.66 88.09,121.44 88.30,122.19 88.53,121.52 88.60,121.13 88.67,125.73 88.89,124.99 89.03,121.38 89.30,126.89 89.34,124.21 89.45,122.12 89.60,124.62 89.68,123.88 89.84,122.69 90.02,120.66 90.15,124.30 90.36,124.84 90.51,119.75 90.71,125.47 90.90,125.66 90.96,123.78 91.09,124.90 91.14,124.27 91.43,123.35 91.59,124.29 91.65,127.45 91.83,122.48 91.96,125.60 92.22,125.58 92.34,124.05 92.53,124.61 92.53,122.96 92.92,124.02 92.85,125.66 92.99,126.30 93.21,124.18 93.32,131.37 93.61,124.92 93.63,126.25 93.77,125.67 94.00,125.44 94.17,128.57 94.21,125.43 94.38,128.76 94.53,128.48 94.69,124.61 94.94,128.42 95.07,125.46 95.21,131.62 95.37,126.07 95.45,125.14 95.65,123.46 95.75,124.64 95.86,125.99 96.14,125.30 96.11,124.96 96.35,125.98 96.47,126.93 96.56,129.98 96.78,124.37 96.95,126.51 97.13,125.85 97.21,124.91 97.44,125.43 97.57,126.14 97.74,129.13 97.75,127.56 97.98,127.01 98.12,129.14 98.33,128.61 98.41,127.77 98.57,128.94 98.69,126.82 98.84,129.51 99.00,129.29 99.25,127.77 99.29,126.39 99.37,131.38 99.67,128.88 99.78,134.27 99.98,127.67 100.13,130.45 100.23,128.20 100.38,129.51 100.52,130.62 100.70,127.75 100.81,129.07 101.01,129.61 101.22,129.59 101.27,130.53 101.44,131.34 101.59,130.99 101.75,129.95 101.91,128.84 102.06,127.42 102.21,128.12 102.35,128.49 102.50,130.66 102.64,128.76 102.80,127.17 102.95,130.53 103.12,127.94 103.26,128.00 103.39,128.96 103.55,130.21 103.71,125.00 103.83,127.32 103.99,129.65 104.15,128.66 104.31,127.75 104.45,128.32 104.61,131.78 104.75,128.46 104.90,130.55 105.05,130.69 105.19,128.44 105.35,130.04 105.50,128.42 105.65,128.12 105.78,127.18 105.95,130.78 106.10,128.47 106.25,128.19 106.40,127.14 106.55,132.42 106.71,130.49 106.86,128.90 107.01,127.88 107.16,126.37 107.30,129.64 107.45,129.62 107.59,126.56 107.75,131.17 107.91,130.47 108.06,127.33 108.20,128.05 108.35,128.27 108.51,129.32 108.65,128.76 108.81,126.06 108.95,131.66 109.10,129.58 109.26,131.29 109.40,131.28 109.55,128.66 109.70,129.66 109.83,130.38 110.00,130.45 110.16,128.78 110.30,127.97 110.46,129.16 110.59,127.66 110.75,128.11 110.90,125.47 111.05,129.28 111.21,127.29 111.35,128.15 111.50,129.07 111.66,129.73 111.81,132.58 111.95,129.56 112.10,126.65 112.25,129.44 112.40,128.15 112.54,129.95 112.71,128.00 112.86,127.97 113.00,128.34 113.15,128.14 113.30,125.99 113.45,128.08 113.60,129.27 113.75,131.47 113.90,128.79 114.05,128.65 114.19,130.38 114.35,130.31 114.51,132.23 114.65,130.42 114.80,129.34 114.95,131.79 115.10,132.14 115.24,128.54 115.41,129.69 115.54,126.39 115.69,128.77 115.85,127.85 116.00,129.06 116.15,128.59 116.29,129.17 116.44,129.29 116.61,130.38 116.75,129.91 116.87,128.44 117.16,127.06 117.17,131.53 117.30,131.79 117.53,128.35 117.67,130.11 117.89,126.28 117.86,126.14 118.12,128.40 118.15,131.46 118.43,126.85 118.51,127.17 118.67,131.49 118.81,125.12 119.05,129.62 119.24,129.26 119.30,127.94 119.44,128.58 119.57,132.89 119.78,126.07 119.84,127.46 120.25,127.52 120.19,126.64 120.45,125.39 120.51,130.61 120.57,128.06 120.71,124.43 120.92,126.26 121.02,128.12 121.22,127.96 121.25,124.48 121.85,126.75 121.97,127.23 121.62,127.30 122.06,127.15 122.30,123.00 122.26,129.44 122.42,126.34 122.61,129.05 122.82,131.13 122.73,125.86 123.22,124.10 123.13,128.05 123.61,126.34 123.36,126.03 123.33,125.16 123.81,130.23 124.12,126.57 124.17,125.02 124.27,126.90 124.27,125.80 124.66,128.33 124.48,127.44 124.94,126.44 124.85,129.57 125.08,127.48 125.14,130.08 125.34,131.20 125.77,128.42 125.61,128.05 125.92,129.72 125.95,131.11 126.32,129.65 126.18,130.05 126.49,129.90 126.75,130.66 127.06,131.37 126.80,129.12 126.99,129.66 127.24,130.76 127.57,129.63 127.42,131.22 127.79,132.08 127.77,131.23 127.87,130.32 127.95,130.16 128.31,134.85 128.56,133.43 128.58,129.99 128.48,130.64 128.82,135.68 129.16,135.18 129.30,132.84 129.37,134.85 129.67,130.24 129.48,133.07 129.64,134.55 130.23,130.02 130.17,132.11 130.22,135.08 130.33,135.86 130.22,132.91 130.79,134.65 130.59,137.16 130.75,133.75 131.13,132.19 131.48,134.63 131.39,134.18 131.64,137.38 131.69,135.48 131.94,133.90 131.83,139.82 132.45,134.75 132.22,136.65 132.56,137.17 132.39,137.52 133.01,136.57 132.99,137.47 133.34,136.44 133.16,134.16 133.52,136.47 133.52,136.66 133.69,136.85 134.00,137.57 133.88,136.35 134.23,140.01 134.53,140.60 134.66,133.97 134.72,138.10 134.78,136.95 134.77,133.69 135.22,139.27 135.11,137.57 135.49,138.16 135.45,137.82 135.65,141.10 135.79,141.53 136.02,139.95 136.04,140.85 136.27,139.54 136.33,140.14 136.61,138.70 136.73,140.24 136.90,139.04 136.90,141.14 137.18,142.10 137.30,141.31 137.51,143.03 137.60,145.88 137.63,137.39 137.98,141.35 137.97,140.45 138.23,140.80 138.10,139.32 138.55,142.00 138.72,141.59 138.69,141.06 139.01,141.88 139.05,141.42 139.41,138.41 139.47,144.71 139.40,142.37 139.67,141.35 139.64,143.76 139.96,142.16 140.21,139.58 140.39,145.23 140.43,140.76 140.57,143.53 140.76,144.29 140.82,146.64 141.08,146.50 141.33,144.80 141.37,143.27 141.60,144.04 141.55,146.89 141.74,148.29 141.99,146.20 142.33,144.21 142.37,147.36 142.60,144.98 142.55,145.06 142.84,145.44 142.65,147.15 143.06,146.73 142.90,148.16 143.44,148.85 143.50,147.59 143.74,142.61 143.79,143.90 143.86,147.34 144.00,147.01 144.21,151.09 144.44,147.23 144.54,147.08 144.62,149.13 144.76,149.43 144.91,147.17 145.09,148.52 145.24,145.70 145.37,146.12 145.55,150.12 145.60,145.44 145.95,149.71 146.02,149.35 146.25,149.59 146.32,149.93 146.44,149.37 146.61,144.58 146.76,146.70 146.86,147.51 147.03,150.31 147.32,146.71 147.41,147.55 147.47,148.24 147.68,151.34 147.75,146.46 148.04,146.69 148.04,150.33 148.31,145.46 148.40,149.96 148.55,148.62 148.65,146.67 148.84,148.83 148.95,147.86 149.10,150.05 149.33,150.48 149.61,152.58 149.58,149.95 149.81,150.23 149.90,149.09 150.01,150.16 150.28,152.17 150.39,146.90 150.57,151.62 150.66,149.55 150.81,150.72 150.90,151.25 151.08,152.27 151.36,151.25 151.26,150.19 151.57,151.53 151.78,151.07 151.90,150.75 152.05,151.55 152.14,152.81 152.36,151.57 152.52,151.66 152.60,149.15 152.84,151.30 152.88,148.27 152.92,152.94 153.20,150.05 153.35,154.11 153.46,157.20 153.63,151.22 153.77,154.37 153.85,152.79 154.17,151.15 154.25,150.71 154.55,153.27 154.55,154.82 154.72,153.04 154.77,149.79 155.06,150.70 155.09,152.21 155.33,155.09 155.50,153.25 155.64,153.40 155.71,155.03 155.86,152.59 156.09,152.87 156.27,152.77 156.43,150.02 156.50,154.05 156.65,154.02 156.90,155.09 156.92,151.33 157.14,152.06 157.23,155.22 157.32,154.21 157.49,156.13 157.73,152.25 157.86,154.19 158.03,152.72 158.13,154.52 158.27,153.19 158.47,155.06 158.59,156.08 158.66,155.44 158.88,151.14 159.14,156.04 159.16,155.24 159.37,152.68 159.50,152.97 159.66,154.55 159.79,155.56 159.93,153.78 160.11,151.75 160.24,155.10 160.40,154.92 160.55,158.90 160.71,152.41 160.85,159.08 161.00,157.73 161.14,155.24 161.28,157.62 161.44,154.91 161.61,156.46 161.76,153.50 161.91,154.93 162.04,153.04 162.19,152.09 162.37,154.37 162.50,153.72 162.66,155.87 162.79,157.10 162.94,154.62 163.11,155.03 163.26,155.27 163.39,152.05 163.55,155.44 163.68,155.01 163.87,154.93 164.01,153.13 164.18,151.62 164.32,154.63 164.44,155.63 164.60,157.41 164.74,157.07 164.90,157.64 165.06,155.78 165.20,157.16 165.35,154.83 165.48,156.28 165.66,156.82 165.80,159.86 165.96,155.67 166.11,153.08 166.25,157.65 166.41,153.94 166.54,155.21 166.71,154.83 166.85,153.79 166.99,157.65 167.15,156.40 167.28,154.35 167.44,155.54 167.59,154.69 167.75,156.50 167.90,154.82 168.04,154.17 168.20,154.40 168.32,154.77 168.50,156.03 168.66,153.98 168.81,155.42 168.96,156.34 169.10,159.58 169.25,157.08 169.39,150.56 169.54,154.78 169.70,154.99 169.87,156.23 169.98,158.37 170.14,156.98 170.30,151.83 170.44,156.28 170.61,155.95 170.73,156.49 170.90,158.11 171.03,153.97 171.20,157.71 171.34,153.06 171.51,155.96 171.65,156.53 171.79,159.77 171.94,154.74 172.10,153.08 172.25,157.12 172.40,154.86 172.54,158.63 172.70,154.81 172.86,154.55 172.99,158.14 173.16,156.20 173.28,157.76 173.46,153.69 173.60,158.88 173.74,155.14 173.90,157.52 174.03,154.47 174.20,153.57 174.35,155.76 174.48,156.50 174.64,158.87 174.81,156.83 174.95,157.46 175.10,157.38 175.24,161.50 175.41,154.95 175.55,158.44 175.71,156.11 175.89,156.82 175.96,155.49 176.14,158.37 176.30,154.36 176.44,154.27 176.62,156.15 176.74,154.59 176.93,157.71 177.06,158.10 177.21,155.33 177.35,157.91 177.51,155.53 177.66,156.58 177.83,156.69 177.96,159.81 178.12,156.72 178.26,155.23 178.41,155.25 178.52,158.78 178.70,154.05 178.86,156.06 178.98,156.23 179.13,152.83 179.29,156.13 179.46,158.58 179.57,157.33 179.76,155.48 179.92,158.13 180.05,157.87 180.20,160.37 180.36,155.84 180.49,156.44 180.66,157.17 180.81,156.90 180.93,157.29 181.11,156.99 181.27,156.05 181.38,154.58 181.57,156.32 181.70,154.98 181.83,155.56 181.98,156.41 182.13,158.15 182.31,158.74 182.44,155.67 182.59,157.88 182.73,158.71 182.90,157.35 183.03,154.76 183.19,153.94 183.36,158.78 183.51,159.00 183.64,157.97 183.80,155.83 183.96,159.93 184.10,159.56 184.27,157.53 184.42,157.27 184.55,154.47 184.68,158.89 184.85,155.07 185.02,158.82 185.17,158.92 185.32,157.91 185.47,160.34 185.59,157.28 185.75,158.78 185.92,159.14 186.05,158.28 186.22,157.22 186.33,159.91 186.48,158.63 186.69,157.65 186.81,157.72 186.96,158.22 187.13,161.71 187.29,158.23 187.45,157.69 187.51,156.39 187.71,156.16 187.87,155.09 187.97,158.54 188.12,158.24 188.30,156.56 188.48,155.85 188.62,157.73 188.79,157.44 188.91,156.16 189.07,158.81 189.23,158.57 189.36,158.28 189.50,159.62 189.65,157.37 189.73,160.61 189.96,156.83 190.07,159.30 190.24,159.51 190.41,158.11 190.56,159.10 190.66,156.52 190.86,156.19 191.01,158.29 191.15,157.47 191.31,159.60 191.46,158.72 191.57,159.68 191.75,159.23 191.89,159.07 192.03,158.91 192.20,158.20 192.34,158.07 192.50,162.06 192.63,156.06 192.82,158.58 192.99,160.49 193.09,159.59 193.25,161.17 193.40,159.84 193.56,156.99 193.70,158.49 193.81,156.82 194.01,160.61 194.15,161.35 194.28,158.40 194.45,159.98 194.59,158.49 194.75,156.90 194.89,158.49 195.04,156.73 195.20,158.35 195.36,159.61 195.50,160.44 195.68,161.36 195.80,158.83 195.93,159.75 196.14,160.07 196.25,160.31 196.43,155.00 196.53,158.27 196.71,160.76 196.89,157.79 197.03,159.96 197.15,160.90 197.29,156.66 197.44,159.36 197.60,160.05 197.73,159.72 197.88,157.35 198.03,160.30 198.18,158.91 198.35,161.09 198.46,160.51 198.65,159.01 198.81,160.17 198.93,158.85 199.08,158.86 199.25,157.52 199.40,159.63 199.57,161.27 199.65,160.22 199.85,160.03 200.03,159.11 200.15,159.30 200.34,161.29 200.50,157.85 200.59,163.38 200.78,160.11 200.91,163.59 201.05,162.08 201.19,159.64 201.34,161.45 201.48,160.73 201.65,161.08 201.82,161.61 201.98,159.57 202.09,159.49 202.26,159.82 202.41,158.39 202.50,160.11 202.72,160.89 202.82,160.95 202.97,160.89 203.17,160.01 203.34,161.85 203.42,157.53 203.58,160.09 203.73,160.22 203.89,162.11 204.04,161.78 204.18,162.02 204.31,160.84 204.54,162.29 204.64,159.34 204.78,161.00 204.97,157.70 205.09,163.55 205.27,163.39 205.42,160.08 205.57,159.73 205.69,157.86 205.86,158.74 205.96,161.28 206.12,160.89 206.30,158.92 206.44,160.42 206.63,160.20 206.74,161.95 206.86,162.34 207.05,160.97 207.19,161.50 207.35,161.35 207.47,158.23 207.63,161.68 207.80,161.34 207.97,162.60 208.11,158.73 208.27,162.68 208.37,160.59 208.54,161.99 208.70,163.44 208.87,159.42 209.01,159.70 209.14,163.19 209.30,160.02 209.45,160.32 209.57,162.69 209.75,161.51 209.92,163.01 210.07,162.32 210.16,161.86 210.35,163.40 210.47,165.23 210.67,161.84 210.81,164.23 210.97,163.74 211.08,162.24 211.21,162.78 211.38,160.73 211.54,161.24 211.67,162.60 211.83,162.14 212.04,164.18 212.12,160.34 212.31,161.86 212.41,161.38 212.61,162.13 212.77,164.11 212.91,160.62 213.08,163.70 213.24,161.60 213.32,162.02 213.51,164.01 213.66,162.14 213.81,163.57 213.98,162.78 214.11,162.38 214.27,162.13 214.42,160.13 214.55,161.60 214.71,162.98 214.84,163.05 215.01,160.58 215.15,164.28 215.30,163.67 215.44,160.93 215.62,161.34 215.75,163.64 215.94,160.34 216.07,161.85 216.21,162.89 216.34,162.81 216.52,162.93 216.65,163.61 216.80,161.90 216.93,162.38 217.11,166.12 217.26,161.09 217.39,162.50 217.54,163.35 217.70,162.26 217.83,165.01 217.99,163.36 218.18,164.38 218.29,159.49 218.49,165.06 218.58,165.02 218.77,162.27 218.92,165.30 219.07,163.81 219.21,164.79 219.32,166.10 219.52,163.64 219.67,162.05 219.80,163.53 219.91,161.72 220.12,162.43 220.23,162.51 220.40,162.61 220.57,165.35 220.72,164.90 220.86,162.42 220.99,165.37 221.18,161.34 221.32,162.84 221.45,163.61 221.58,165.55 221.76,164.91 221.88,164.54 222.08,165.79 222.21,164.97 222.34,165.92 222.51,162.86 222.62,161.58 222.80,163.44 222.94,165.25 223.07,164.46 223.24,165.38 223.41,165.15 223.52,164.89 223.70,165.35 223.82,163.18 224.00,165.78 224.12,162.81 224.31,164.11 224.46,162.27 224.62,165.04 224.78,162.13 224.90,166.36 225.05,162.47 225.21,164.77 225.34,164.23 225.47,163.21 225.63,166.25 225.78,163.89 225.95,166.60 226.09,163.09 226.24,163.43 226.41,161.76 226.55,165.39 226.74,165.93 226.85,164.97 226.98,164.45 227.17,163.40 227.29,168.04 227.45,165.80 227.62,162.17 227.75,164.36 227.91,161.14 228.04,167.06 228.19,167.65 228.36,166.94 228.49,164.83 228.64,164.10 228.80,162.98 228.98,165.73 229.13,163.95 229.25,164.50 229.40,164.15 229.54,164.64 229.72,166.35 229.86,167.48 230.02,165.35 230.13,165.19 230.32,163.63 230.45,163.49 230.61,163.75 230.77,166.49 230.90,165.62 231.04,166.65 231.21,165.92 231.33,164.79 231.53,163.64 231.66,164.88 231.78,163.43 231.97,168.23 232.12,165.84 232.28,164.98 232.42,168.28 232.56,165.00 232.70,166.33 232.83,165.35 233.02,166.10 233.16,165.12 233.30,166.33 233.46,167.64 233.59,163.92 233.76,162.60 233.90,167.57 234.05,165.94 234.19,166.94 234.36,165.34 234.50,167.89 234.65,168.29 234.81,164.16 234.95,166.72 235.11,164.96 235.24,163.59 235.39,165.41 235.57,166.62 235.70,163.96 235.86,164.08 236.00,167.57 236.15,165.92 236.33,166.45 236.43,164.33 236.75,165.01 236.82,165.49 236.96,164.99 236.73,164.35 236.80,165.75 238.03,163.20 237.51,160.28 237.16,161.74 237.84,163.41 237.40,165.79 239.42,163.65 238.46,164.60 237.76,165.65 238.71,165.10 238.72,164.96 238.86,165.79 239.01,167.49 239.14,166.82 239.30,165.79 239.41,166.76 239.63,164.48 239.79,167.62 239.91,167.29 240.06,166.72 240.17,164.12 240.34,169.13 240.47,162.41 240.62,165.06 240.81,165.19 240.98,167.41 241.10,164.46 241.30,166.84 241.42,166.34 241.50,166.18 241.69,167.76 241.88,168.55 242.00,167.19 242.17,166.31 242.27,163.63 242.48,168.72 242.58,166.36 242.76,164.30 242.95,167.04 243.05,168.80 243.20,166.69 243.37,165.33 243.48,169.96 243.63,167.79 243.82,167.45 243.92,168.38 244.07,164.14 244.29,166.98 244.37,166.89 244.56,170.17 244.72,166.41 244.85,166.45 244.98,165.36 245.17,166.15 245.28,167.00 245.50,167.66 245.65,167.07 245.73,170.04 245.91,168.04 246.04,168.27 246.21,169.27 246.35,168.31 246.48,166.80 246.66,165.47 246.77,168.03 246.96,166.48 247.10,169.36 247.23,166.62 247.42,164.71 247.55,167.74 247.69,169.14 247.85,167.47 248.00,168.01 248.17,168.00 248.29,170.10 248.39,168.25 248.53,167.82 248.73,167.09 248.87,165.76 249.04,169.81 249.17,169.50 249.33,166.75 249.53,168.84 249.62,168.49 249.82,167.59 249.95,167.70 250.13,169.13 250.27,166.58 250.40,167.51 250.57,168.12 250.71,168.24 250.83,168.00 251.01,168.59 251.16,169.03 251.30,167.18 251.46,168.49 251.59,167.71 251.76,170.42 251.90,166.61 252.02,168.18 252.20,169.43 252.39,168.17 252.51,168.13 252.66,167.88 252.80,169.01 252.95,167.08 253.09,168.51 253.25,168.50 253.41,166.73 253.56,169.02 253.71,168.06 253.85,169.09 254.00,169.83 254.14,169.17 254.31,167.18 254.46,169.17 254.59,166.66 254.75,167.77 254.88,170.97 255.06,168.81 255.19,170.85 255.35,168.59 255.51,168.85 255.66,167.39 255.79,170.10 255.97,168.62 256.12,169.71 256.26,169.48 256.41,169.62 256.55,169.37 256.71,168.90 256.84,168.97 256.99,168.08 257.15,166.22 257.30,169.65 257.44,171.74 257.62,170.45 257.74,172.11 257.88,169.71 258.05,167.84 258.22,167.82 258.36,170.10 258.50,169.58 258.65,168.94 258.81,170.13 258.95,168.04 259.10,169.88 259.25,168.84 259.39,169.43 259.56,170.78 259.70,169.07 259.85,171.06 260.01,171.01 260.16,168.31 260.29,172.33 260.46,167.71 260.61,169.20 260.75,170.30 260.90,166.39 261.05,170.72 261.19,170.87 261.35,169.25 261.49,169.76 261.66,169.70 261.79,169.16 261.94,170.84 262.10,168.98 262.26,169.41 262.40,169.96 262.54,170.60 262.70,170.94 262.86,167.60 262.98,166.89 263.16,169.36 263.28,169.48 263.46,168.16 263.60,169.97 263.75,170.40 263.91,170.09 264.06,171.75 264.22,168.28 264.36,169.66 264.51,172.15 264.64,170.54 264.80,168.22 264.95,169.94 265.09,171.22 265.26,172.40 265.40,170.57 265.57,171.24 265.70,168.29 265.84,169.42 266.00,171.31 266.14,168.52 266.31,169.70 266.46,167.37 266.61,171.72 266.76,169.64 266.89,170.56 267.04,167.88 267.19,168.14 267.35,172.21 267.50,169.42 267.65,169.17 267.81,170.55 267.95,170.62 268.12,167.37 268.24,168.66 268.41,170.00 268.55,169.95 268.71,170.41 268.85,169.41 269.00,169.62 269.15,170.27 269.29,169.11 269.44,168.94 269.61,169.32 269.74,170.05 269.91,169.86 270.07,169.44 270.20,169.75 270.36,170.02 270.50,170.51 270.63,170.57 270.80,168.46 270.96,171.38 271.09,168.07 271.25,170.85 271.40,169.25 271.54,170.92 271.70,171.55 271.85,167.77 272.01,170.99 272.15,170.59 272.27,169.67 272.45,170.78 272.61,169.67 272.75,170.48 272.91,169.00 273.06,171.38 273.16,171.16 273.36,171.38 273.46,169.61 273.63,172.83 273.80,173.03 273.93,170.40 274.08,170.00 274.27,170.04 274.38,171.46 274.57,171.92 274.73,169.67 274.88,168.06 274.98,171.26 275.12,170.65 275.30,170.94 275.49,171.41 275.60,169.35 275.74,170.87 275.90,170.43 276.06,171.31 276.22,172.42 276.35,170.88 276.50,169.80 276.66,172.51 276.80,171.85 276.94,170.70 277.07,168.68 277.25,169.89 277.39,171.21 277.54,171.75 277.69,170.40 277.83,171.65 278.01,170.30 278.17,170.59 278.31,171.83 278.44,170.83 278.60,171.38 278.76,172.34 278.90,172.68 279.06,170.52 279.17,170.97 279.35,169.62 279.53,169.67 279.67,171.73 279.80,170.71 279.95,169.04 280.14,172.09 280.27,170.38 280.39,171.07 280.56,172.02 280.69,172.01 280.84,171.46 280.98,169.03 281.16,172.30 281.34,170.85 281.47,169.83 281.58,168.85 281.76,173.34 281.87,171.87 282.05,171.86 282.22,172.51 282.38,171.67 282.50,169.92 282.66,172.67 282.80,173.10 282.95,172.51 283.13,173.83 283.23,174.32 283.37,170.92 283.58,171.40 283.74,173.10 283.82,172.23 284.02,172.29 284.17,173.23 284.29,173.01 284.43,171.54 284.60,172.28 284.74,171.25 284.92,171.92 285.04,170.79 285.22,169.74 285.34,171.62 285.53,171.52 285.67,173.41 285.82,174.29 285.94,172.37 286.10,172.96 286.25,171.59 286.42,171.25 286.54,172.08 286.69,172.10 286.85,172.86 287.01,172.65 287.15,174.62 287.30,172.28 287.43,170.50 287.59,172.75 287.73,171.79 287.92,172.90 288.05,174.07 288.21,171.87 288.33,172.60 288.50,173.37 288.66,171.55 288.78,173.03 288.94,173.47 289.09,173.82 289.25,174.20 289.40,173.54 289.53,173.35 289.71,171.14 289.85,169.55 290.00,171.72 290.14,174.73 290.30,173.11 290.47,170.17 290.62,172.48 290.74,173.48 290.93,170.73 291.04,173.79 291.19,171.66 291.37,174.41 291.51,173.17 291.69,177.02 291.80,171.51 291.95,173.55 292.11,171.37 292.25,174.67 292.39,173.41 292.55,174.43 292.70,173.43 292.85,171.86 293.00,172.53 293.13,171.82 293.31,172.07 293.44,173.58 293.60,174.76 293.74,174.51 293.90,174.10 294.07,172.78 294.22,174.14 294.36,172.45 294.50,173.80 294.64,174.60 294.80,173.35 294.95,173.01 295.10,173.08 295.23,174.40 295.40,173.27 295.53,171.91 295.73,173.18 295.85,172.39 295.99,175.60 296.16,173.77 296.29,171.95 296.45,174.13 296.62,174.71 296.77,174.31 296.88,173.41 297.03,174.06 297.19,174.24 297.39,175.16 297.50,174.39 297.65,176.77 297.79,173.71 297.97,175.89 298.12,174.04 298.22,171.92 298.39,172.60 298.52,171.82 298.68,171.97 298.84,175.60 298.98,173.32 299.14,174.90 299.31,173.07 299.47,174.18 299.60,172.91 299.76,175.30 299.88,173.94 300.07,173.71 300.24,174.09 300.35,177.00 300.51,174.89 300.66,175.39 300.77,172.84 300.97,173.59 301.11,174.78 301.22,172.14 301.39,176.10 301.57,174.81 301.71,174.47 301.83,174.27 301.99,174.24 302.14,173.93 302.30,176.29 302.44,175.44 302.60,176.15 302.75,174.26 302.87,173.58 303.06,176.36 303.21,173.21 303.34,173.98 303.51,175.64 303.70,176.12 303.77,173.19 303.95,174.50 304.12,174.89 304.25,174.72 304.39,173.85 304.59,175.76 304.69,174.31 304.85,174.68 304.99,172.23 305.17,174.89 305.26,172.66 305.43,175.95 305.59,175.71 305.76,174.50 305.91,175.35 306.07,175.31 306.20,175.02 306.34,175.67 306.50,175.10 306.63,174.69 306.79,174.32 306.94,177.38 307.11,175.59 307.27,175.35 307.38,176.28 307.54,174.95 307.70,174.98 307.85,176.29 307.99,176.76 308.16,176.34 308.30,173.73 308.42,175.64 308.63,175.57 308.73,176.18 308.93,174.56 309.06,174.38 309.21,175.55 309.32,174.63 309.51,174.44 309.65,175.68 309.78,176.92 309.96,175.98 310.11,177.20 310.27,174.65 310.38,176.75 310.53,175.90 310.73,174.87 310.86,175.45 311.02,174.94 311.14,175.75 311.31,175.12 311.47,177.59 311.58,175.65 311.74,174.38 311.91,175.89 312.08,176.63 312.19,175.80 312.36,177.25 312.48,175.12 312.63,175.22 312.81,178.25 312.93,176.31 313.10,176.99 313.24,176.96 313.41,177.08 313.53,176.46 313.67,176.20 313.82,177.77 314.00,175.88 314.18,176.64 314.32,177.36 314.45,176.07 314.60,174.72 314.77,177.16 314.90,177.93 315.07,176.96 315.23,174.65 315.36,177.48 315.51,179.10 315.66,174.89 315.80,173.51 315.96,176.51 316.08,176.92 316.23,177.79 316.43,177.86" fill="none" stroke="#1f78ff" stroke-width="0.55" stroke-linejoin="round"/>
<polyline points="28.91,63.33 29.19,64.55 29.21,63.45 29.48,59.61 29.58,64.99 29.79,63.97 29.95,61.69 30.14,64.45 30.17,64.01 30.33,63.92 30.50,63.37 30.56,64.69 30.84,61.69 30.96,63.15 31.02,62.46 31.33,65.13 31.49,63.87 31.47,63.15 31.74,62.06 31.93,63.40 32.06,64.12 32.09,63.51 32.21,67.36 32.44,66.75 32.57,57.91 32.75,59.96 32.90,64.16 33.09,63.64 33.17,65.25 33.34,65.34 33.69,69.98 33.64,62.30 33.87,64.18 33.98,70.11 34.13,66.89 34.16,67.06 34.46,64.36 34.55,61.77 34.79,66.25 35.06,66.24 35.02,63.16 35.23,64.59 35.20,66.18 35.46,64.22 35.76,66.38 35.75,66.97 35.84,66.95 36.07,65.78 36.18,68.54 36.33,69.39 36.46,68.14 36.85,65.54 36.71,69.38 36.91,66.55 37.04,69.99 37.38,65.44 37.37,70.33 37.68,68.22 37.72,65.39 37.85,67.77 37.85,68.78 38.28,69.43 38.36,66.54 38.49,66.37 38.59,69.63 38.71,68.16 38.77,69.97 39.15,71.35 39.23,65.70 39.32,70.39 39.44,72.85 39.66,69.32 39.79,68.21 40.12,72.09 40.18,71.02 40.19,72.69 40.29,69.83 40.53,67.23 40.61,70.65 40.86,69.97 41.04,73.03 41.22,71.76 41.33,67.50 41.45,68.60 41.65,73.50 41.69,72.91 41.90,69.65 42.11,71.09 42.22,72.07 42.26,72.03 42.42,72.92 42.53,71.33 42.94,70.40 42.69,69.91 43.07,72.73 43.94,64.33 43.81,68.94 44.05,68.89 43.53,64.93 44.13,68.68 45.14,65.86 44.15,69.03 44.54,66.20 44.25,67.21 44.61,67.63 45.04,64.72 45.92,60.80 44.43,58.37 44.14,65.31 45.40,59.83 45.69,57.23 46.81,58.02 46.40,56.00 45.48,57.30 46.58,54.12 47.17,52.86 46.66,49.90 46.31,51.53 47.27,46.71 46.60,49.57 45.54,50.41 48.24,41.87 46.30,38.39 47.21,44.57 47.37,47.99 47.51,38.25 47.70,36.44 46.92,39.63 48.61,34.98 48.38,35.19 48.53,34.96 49.18,36.48 49.34,33.63 49.61,34.67 50.00,32.98 49.48,30.77 48.68,31.43 49.67,29.32 49.72,31.02 49.90,27.70 49.73,27.18 49.74,32.70 50.72,28.47 50.99,27.80 50.01,28.48 51.06,25.56 50.82,25.35 50.99,26.25 51.46,26.13 51.34,23.34 51.22,28.80 51.69,26.06 50.78,25.62 51.70,26.60 51.94,28.32 51.71,33.66 52.48,27.42 52.66,31.12 52.47,26.10 52.79,31.72 53.27,34.37 53.57,32.14 53.01,31.69 53.59,34.25 54.01,35.87 53.74,36.27 53.59,39.91 53.71,36.20 54.05,34.89 53.85,36.61 55.48,37.35 54.38,38.39 54.99,38.66 55.04,39.75 55.41,35.93 55.06,42.54 54.77,39.77 56.34,38.94 55.66,43.90 55.91,46.13 56.10,44.76 56.76,44.57 56.67,42.55 57.02,52.29 56.99,48.11 56.82,43.84 57.02,45.28 56.71,47.93 56.31,44.57 57.24,49.28 57.01,48.35 58.84,52.97 58.52,52.91 58.49,44.67 57.85,51.85 59.20,48.44 57.62,55.56 57.99,53.88 58.34,55.37 58.41,52.07 59.06,59.59 59.24,60.62 60.18,53.79 59.91,57.82 60.12,55.88 59.92,57.93 59.84,55.45 59.78,63.46 59.61,57.14 60.01,59.25 60.35,61.65 60.95,59.39 60.14,60.86 60.41,60.57 61.19,62.09 60.84,60.10 61.53,62.35 61.39,63.39 61.41,63.58 61.33,65.01 61.96,64.66 61.86,67.66 62.06,65.57 62.24,66.51 62.65,65.59 62.78,66.19 62.52,64.70 63.01,69.25 63.29,65.54 63.58,66.76 63.67,69.69 63.70,70.07 63.55,68.42 63.78,64.81 64.30,70.94 64.10,70.82 64.63,67.09 64.83,72.60 64.47,69.34 64.95,68.60 64.98,71.80 65.60,71.42 65.48,72.61 65.34,68.54 65.69,77.02 65.55,71.50 65.87,69.52 66.09,74.98 66.23,72.92 66.42,74.82 66.33,73.50 66.45,74.38 66.78,75.18 66.90,72.87 67.06,76.36 67.37,73.67 67.46,72.79 67.54,75.13 67.62,76.08 67.78,74.53 68.02,73.08 68.21,76.71 68.28,71.07 68.46,72.89 68.61,75.53 68.81,72.23 68.79,75.64 69.06,75.51 69.22,77.87 69.40,73.58 69.52,74.35 69.59,76.72 69.77,70.09 69.86,83.50 70.11,74.45 70.26,74.45 70.43,78.34 70.50,76.24 70.64,72.14 70.94,77.98 71.01,78.60 71.25,75.54 71.32,76.01 71.37,77.92 71.64,74.65 71.82,77.95 71.87,77.45 71.94,75.42 72.24,73.77 72.34,76.64 72.51,75.13 72.55,79.68 72.82,77.67 72.85,79.24 73.07,77.73 73.28,78.09 73.33,75.62 73.48,79.15 73.68,81.87 73.91,76.89 74.06,76.26 74.13,77.35 74.34,76.61 74.47,76.13 74.61,78.19 74.76,77.21 74.87,81.40 75.08,78.00 75.24,78.82 75.50,80.37 75.58,77.46 75.42,81.74 75.69,76.90 75.98,76.59 76.11,77.77 76.07,78.49 76.39,75.52 76.52,78.92 76.69,75.12 76.84,82.58 77.09,79.16 77.29,77.93 77.36,77.41 77.34,78.79 77.52,79.29 77.69,77.44 77.89,77.86 78.01,79.73 78.16,79.05 78.21,82.74 78.64,83.40 78.78,80.90 78.94,82.18 78.94,78.02 79.17,82.94 79.11,81.53 79.25,82.95 79.47,85.81 79.79,76.68 79.83,82.97 79.83,79.89 80.16,84.13 80.36,79.75 80.47,81.89 80.50,83.75 80.76,84.93 80.84,83.82 81.00,81.92 81.19,82.68 81.46,86.32 81.77,84.37 81.88,80.53 81.89,86.78 81.89,85.94 82.05,87.25 82.20,84.57 82.61,87.59 82.05,83.28 82.75,87.42 82.49,85.10 83.00,88.12 83.39,89.14 83.14,85.18 83.04,87.05 83.83,87.49 84.02,90.48 83.99,89.56 84.28,85.15 84.06,89.40 84.56,90.31 84.81,93.85 84.77,84.95 84.85,87.91 85.18,92.63 85.30,86.40 85.12,87.00 85.64,91.34 85.68,92.77 85.73,88.95 86.08,92.07 86.14,91.28 86.24,94.80 86.24,91.31 86.56,93.85 86.46,89.46 86.73,91.35 86.69,91.72 86.83,94.84 87.26,93.65 87.34,90.62 87.51,94.22 87.72,94.59 87.84,92.63 87.84,92.43 88.11,92.75 88.24,89.30 88.33,93.98 88.53,94.25 88.65,91.76 88.77,95.78 88.96,90.86 89.18,92.99 89.56,93.33 89.35,99.40 89.67,90.95 89.57,96.30 90.10,97.37 90.01,96.17 90.22,98.26 90.51,93.17 90.62,90.26 90.46,97.74 90.87,93.18 90.92,95.43 91.18,93.54 91.27,99.05 91.49,98.76 91.59,95.11 91.68,99.17 91.96,97.41 91.86,96.90 92.11,97.49 92.21,96.98 92.44,99.06 92.56,98.45 92.74,96.98 92.85,100.35 93.01,96.58 93.05,98.86 93.35,99.30 93.53,101.95 93.59,97.31 93.74,102.82 93.89,99.18 94.26,98.40 94.27,97.37 94.44,100.51 94.52,99.34 94.65,96.69 94.77,96.75 95.14,98.24 94.99,98.07 95.33,102.42 95.45,103.22 95.58,102.12 95.60,101.01 95.78,99.24 96.14,100.52 96.14,102.63 96.43,105.74 96.56,102.93 96.70,100.18 96.87,101.07 96.84,99.93 97.06,99.33 97.31,100.88 97.28,101.91 97.71,105.96 97.65,101.80 97.84,105.05 97.90,106.15 98.18,102.22 98.23,106.00 98.43,103.98 98.49,101.37 98.86,103.13 98.75,102.67 99.09,102.17 99.22,102.37 99.38,103.31 99.46,104.07 99.68,100.95 99.83,103.09 99.96,99.50 100.11,103.82 100.24,104.73 100.42,103.67 100.52,104.00 100.72,104.77 100.86,101.80 100.95,102.87 101.06,104.71 101.30,105.93 101.44,104.51 101.64,109.73 101.75,103.43 101.88,106.09 102.00,106.77 102.20,103.45 102.33,101.84 102.46,101.02 102.65,104.29 102.83,106.60 102.95,104.63 103.07,104.44 103.26,103.15 103.36,105.45 103.50,99.02 103.72,104.74 103.83,104.30 104.04,100.98 104.16,109.53 104.27,101.02 104.46,101.81 104.64,101.55 104.74,107.14 104.86,102.39 105.03,106.16 105.19,106.01 105.34,105.21 105.49,101.44 105.65,103.10 105.81,108.57 105.95,101.44 106.11,102.53 106.26,104.13 106.42,106.45 106.55,105.10 106.70,106.27 106.85,101.91 107.00,106.73 107.15,105.82 107.31,100.61 107.45,108.12 107.60,109.92 107.74,102.56 107.90,104.53 108.04,107.73 108.19,100.81 108.35,99.58 108.50,101.23 108.65,102.97 108.81,102.93 108.94,105.77 109.11,104.94 109.23,101.30 109.40,105.64 109.56,108.76 109.69,107.13 109.85,106.62 109.99,104.28 110.16,106.58 110.27,101.89 110.44,106.00 110.58,103.98 110.75,106.89 110.91,105.28 111.06,101.53 111.21,104.45 111.35,107.05 111.49,101.41 111.66,102.76 111.81,102.25 111.94,100.49 112.09,106.38 112.24,107.20 112.41,105.97 112.56,104.62 112.71,103.90 112.84,104.59 112.99,102.24 113.21,106.09 113.31,106.40 113.48,106.08 113.54,102.52 113.73,103.93 113.90,103.29 114.04,107.92 114.18,104.01 114.28,99.01 114.57,104.43 114.66,107.94 114.74,105.01 115.00,105.43 115.10,103.35 115.28,98.48 115.39,98.81 115.52,100.11 115.67,102.75 115.86,103.74 116.03,104.60 116.17,102.08 116.33,105.14 116.50,102.12 116.61,101.05 116.79,104.73 116.95,100.44 117.06,96.03 117.20,99.98 117.33,102.70 117.45,95.03 117.59,101.51 117.86,101.52 117.95,98.84 118.08,98.65 118.32,101.05 118.44,100.79 118.55,105.08 118.94,102.90 118.79,97.68 119.17,98.89 119.94,102.10 119.77,104.43 119.35,100.28 119.92,99.57 120.27,102.76 119.87,97.71 119.90,96.49 121.02,93.31 120.20,94.95 119.50,100.28 120.82,90.23 122.69,92.25 121.52,87.43 121.94,89.70 120.25,90.10 121.18,87.60 122.60,90.96 121.47,91.96 123.00,92.32 122.48,96.39 122.57,95.16 123.64,93.59 122.25,93.52 122.47,93.60 122.84,97.24 123.03,95.79 122.46,103.58 123.71,101.92 123.49,97.45 123.49,97.65 123.93,102.96 123.70,94.85 124.33,98.76 124.13,102.36 124.33,98.01 124.33,99.18 124.54,99.60 124.75,102.15 124.77,101.01 124.95,101.77 125.16,102.35 125.42,101.11 125.54,103.83 125.70,99.53 125.79,97.95 126.00,97.26 126.21,97.75 126.23,100.44 126.40,104.35 126.58,102.42 126.40,100.73 126.80,99.76 127.02,101.22 127.21,101.69 127.22,101.46 127.54,99.54 127.48,102.00 127.69,105.75 128.09,98.25 127.84,103.06 128.15,98.71 128.30,104.40 128.45,102.33 128.54,99.29 128.85,104.70 128.77,108.98 128.89,105.04 129.28,107.73 129.21,104.94 129.56,100.09 129.67,106.61 129.72,104.60 129.92,102.25 130.10,107.81 130.32,106.78 130.33,104.99 130.53,108.50 130.52,104.49 130.82,108.29 130.76,104.65 131.15,108.35 131.25,104.59 131.73,110.97 131.78,108.17 131.74,111.17 132.05,105.92 132.12,106.96 131.93,110.43 131.76,102.14 132.79,106.48 132.76,111.83 132.33,110.77 133.12,112.32 133.34,109.54 133.09,111.95 133.61,109.15 133.13,107.92 133.65,107.46 133.87,110.51 134.20,110.83 134.26,110.95 134.36,104.25 134.60,108.28 134.45,112.11 135.13,114.39 134.82,112.62 135.25,112.22 135.21,109.09 135.30,119.80 135.65,112.61 135.77,119.61 136.14,119.62 136.22,116.85 136.00,115.13 136.31,116.96 136.41,114.02 136.46,117.55 136.58,117.08 136.88,118.49 136.94,119.63 137.00,121.65 137.29,116.71 137.48,120.28 137.61,116.02 137.62,115.92 137.84,116.72 138.21,115.99 138.12,120.84 138.32,120.85 138.76,121.83 138.69,118.86 138.75,119.72 138.73,117.81 139.14,116.58 139.09,120.56 139.40,120.27 139.45,117.11 139.51,121.32 140.04,115.88 139.99,119.77 140.26,118.83 140.39,119.21 140.37,118.02 140.61,123.05 140.71,122.27 141.01,123.89 141.10,121.51 141.16,118.22 141.54,120.57 141.56,118.76 141.70,122.83 141.71,124.78 142.00,122.80 141.93,120.72 142.30,121.41 142.29,122.93 142.57,119.11 142.67,123.08 142.88,123.34 143.04,121.70 143.14,122.14 143.29,123.70 143.28,121.46 143.38,121.59 143.87,125.58 143.94,124.34 143.95,127.91 144.32,121.60 144.30,119.77 144.53,126.38 144.68,126.50 144.81,122.51 144.99,120.83 145.01,124.32 145.25,120.31 145.38,123.77 145.56,119.43 145.68,124.18 145.81,119.74 145.95,124.33 146.21,128.62 146.25,124.42 146.47,126.99 146.62,123.68 146.74,123.15 146.93,121.78 147.08,127.95 147.17,125.39 147.37,129.50 147.62,122.86 147.58,125.23 147.78,126.03 147.90,129.31 148.23,130.37 148.16,124.52 148.40,123.43 148.61,122.07 148.64,129.52 148.84,126.18 148.95,124.91 149.06,126.42 149.30,120.49 149.48,122.56 149.57,129.03 149.76,127.82 149.94,127.31 150.13,124.62 150.12,128.52 150.39,131.45 150.46,124.33 150.53,127.38 150.75,126.38 150.99,128.37 151.12,127.62 151.18,127.31 151.50,125.64 151.58,127.79 151.70,126.44 151.82,127.64 152.03,127.92 152.13,129.71 152.37,126.84 152.47,127.54 152.64,130.94 152.73,127.95 152.81,127.93 153.08,130.69 153.14,129.36 153.34,129.01 153.50,129.39 153.62,125.98 153.84,130.07 153.89,132.18 154.16,130.46 154.23,125.45 154.44,129.87 154.60,127.10 154.66,128.77 154.82,129.66 155.04,126.59 155.16,132.63 155.30,129.36 155.37,131.45 155.53,131.13 155.77,132.85 155.96,132.55 156.02,126.31 156.16,129.94 156.36,124.86 156.52,128.89 156.67,131.68 156.78,132.21 156.87,133.14 157.16,129.27 157.23,130.97 157.45,130.49 157.47,133.29 157.72,134.10 157.83,129.58 157.96,139.35 158.19,130.52 158.35,129.72 158.43,132.04 158.63,132.46 158.71,132.02 158.87,129.27 159.04,134.29 159.19,131.03 159.37,134.54 159.48,134.22 159.67,128.02 159.82,128.73 159.95,128.71 160.08,131.65 160.21,131.22 160.40,131.75 160.54,129.26 160.70,132.17 160.83,134.47 161.00,128.12 161.15,130.79 161.30,131.85 161.46,130.99 161.61,130.86 161.77,135.45 161.89,134.35 162.06,133.36 162.20,129.65 162.34,136.63 162.48,132.30 162.68,130.15 162.80,130.73 162.94,130.40 163.10,136.46 163.25,132.06 163.39,131.75 163.52,126.66 163.70,133.36 163.85,129.24 163.99,129.10 164.17,133.14 164.28,129.76 164.43,133.70 164.60,134.38 164.77,127.70 164.91,131.53 165.06,128.25 165.16,131.75 165.36,134.01 165.51,128.81 165.66,136.10 165.79,131.27 165.96,129.29 166.12,131.74 166.28,133.87 166.40,128.92 166.53,132.10 166.70,128.98 166.86,134.90 167.01,132.52 167.19,131.22 167.30,134.57 167.43,129.29 167.59,131.36 167.76,136.49 167.89,132.02 168.03,135.42 168.18,132.79 168.37,130.78 168.50,131.83 168.64,132.59 168.82,131.51 168.96,130.59 169.08,130.71 169.27,129.14 169.40,132.78 169.51,133.45 169.68,134.27 169.86,128.51 170.01,134.45 170.14,132.61 170.28,129.44 170.45,132.91 170.57,134.56 170.76,133.92 170.90,134.40 171.05,134.92 171.19,134.83 171.37,132.75 171.46,128.16 171.63,131.17 171.81,133.71 171.94,131.87 172.13,134.50 172.26,134.77 172.39,133.11 172.57,137.25 172.70,130.86 172.86,135.16 172.99,132.03 173.14,131.37 173.31,134.46 173.45,131.79 173.59,135.12 173.73,130.60 173.91,133.32 174.08,131.37 174.19,132.76 174.36,132.48 174.45,130.81 174.63,134.82 174.81,130.60 174.98,131.22 175.10,135.42 175.26,135.62 175.41,134.97 175.57,134.26 175.68,138.61 175.86,130.87 175.99,131.93 176.14,131.40 176.30,135.64 176.45,134.31 176.58,136.17 176.75,135.88 176.88,133.25 177.08,131.96 177.22,131.61 177.34,138.74 177.54,136.01 177.68,135.20 177.81,133.17 177.94,133.51 178.11,133.21 178.26,133.29 178.43,128.72 178.55,133.92 178.69,133.24 178.90,134.75 179.03,134.60 179.16,136.05 179.28,134.16 179.46,135.98 179.63,128.61 179.77,131.85 179.92,138.10 180.05,131.65 180.23,133.74 180.34,135.94 180.49,132.47 180.64,136.02 180.79,131.33 180.99,130.30 181.06,131.61 181.26,130.93 181.38,134.54 181.52,133.91 181.70,135.35 181.82,132.39 182.00,140.24 182.20,134.50 182.30,134.64 182.46,135.76 182.58,134.26 182.76,133.44 182.87,135.03 183.05,136.88 183.20,136.35 183.40,136.98 183.50,133.73 183.64,133.30 183.79,139.37 183.92,134.52 184.12,136.11 184.28,136.70 184.39,138.21 184.57,132.22 184.69,134.14 184.86,134.27 185.01,134.58 185.12,130.04 185.28,135.08 185.47,129.06 185.56,135.99 185.75,136.53 185.89,136.69 186.03,132.83 186.20,137.51 186.36,133.62 186.51,132.87 186.59,133.43 186.84,133.74 186.94,135.96 187.12,137.39 187.25,131.13 187.39,134.51 187.55,137.64 187.77,136.17 187.88,136.85 187.99,132.58 188.16,137.86 188.32,132.50 188.46,136.29 188.60,138.83 188.75,139.96 188.88,137.06 189.07,137.88 189.22,134.73 189.40,135.02 189.49,138.57 189.66,136.11 189.80,135.86 189.98,133.15 190.10,136.50 190.24,137.59 190.36,134.55 190.57,135.19 190.70,139.65 190.87,136.70 190.99,135.73 191.21,133.96 191.28,135.09 191.46,135.90 191.61,139.36 191.77,135.19 191.90,140.31 192.03,134.57 192.18,135.81 192.37,138.38 192.50,136.11 192.66,134.89 192.78,136.40 192.95,137.65 193.10,133.11 193.26,136.23 193.37,136.55 193.53,135.96 193.74,138.39 193.84,135.67 194.00,136.12 194.14,137.00 194.27,138.48 194.43,136.51 194.61,140.19 194.74,135.12 194.94,139.75 195.02,135.28 195.16,136.77 195.34,137.90 195.47,141.47 195.68,139.07 195.79,136.37 195.96,139.96 196.07,136.83 196.26,135.65 196.41,138.26 196.58,137.55 196.70,139.37 196.86,136.26 197.00,138.23 197.17,138.78 197.29,138.07 197.46,137.46 197.59,136.09 197.77,139.45 197.89,137.88 198.04,138.66 198.19,136.92 198.38,137.71 198.47,135.56 198.62,137.91 198.81,139.35 198.93,137.98 199.09,139.60 199.24,138.49 199.45,140.69 199.54,137.50 199.68,134.54 199.84,138.85 200.00,137.64 200.16,136.00 200.27,139.38 200.46,138.61 200.64,139.01 200.71,137.43 200.91,138.55 201.07,138.69 201.20,141.85 201.35,136.82 201.45,138.23 201.68,139.03 201.79,134.77 201.95,135.05 202.13,142.80 202.20,134.77 202.40,139.59 202.56,136.71 202.72,136.91 202.86,134.44 203.04,136.68 203.16,140.15 203.32,135.74 203.47,139.82 203.57,139.27 203.73,142.77 203.95,137.72 204.04,141.29 204.20,140.55 204.32,138.18 204.49,135.41 204.62,141.89 204.79,136.08 204.96,137.92 205.08,140.70 205.24,141.20 205.43,137.24 205.56,138.92 205.71,138.49 205.87,141.43 205.99,144.14 206.14,135.39 206.26,140.97 206.47,133.37 206.60,139.20 206.75,136.97 206.88,143.25 207.06,139.59 207.21,137.80 207.35,138.31 207.47,138.18 207.63,139.75 207.80,139.08 207.93,140.74 208.11,142.54 208.27,140.88 208.38,137.04 208.55,136.27 208.69,138.04 208.87,141.70 209.02,138.94 209.21,138.30 209.30,139.94 209.43,136.86 209.61,137.44 209.74,140.77 209.90,139.17 210.08,138.90 210.19,140.46 210.37,138.69 210.45,138.52 210.67,138.99 210.80,141.14 210.94,140.08 211.09,137.62 211.28,139.42 211.39,141.33 211.58,143.79 211.69,137.83 211.85,140.80 212.01,139.64 212.19,141.82 212.31,141.10 212.46,143.15 212.60,141.29 212.74,139.21 212.89,139.25 213.09,141.15 213.23,141.15 213.34,145.13 213.50,143.74 213.62,138.14 213.82,141.17 213.97,137.89 214.10,137.28 214.23,142.04 214.42,141.69 214.57,138.59 214.70,143.90 214.87,138.78 214.97,138.44 215.14,142.04 215.28,141.22 215.45,140.51 215.64,140.72 215.75,141.32 215.93,140.64 216.05,140.61 216.19,137.27 216.38,138.39 216.51,142.23 216.69,139.69 216.82,142.16 216.93,143.54 217.04,140.47 217.25,141.75 217.37,145.27 217.52,142.61 217.66,144.87 217.83,144.30 218.00,142.81 218.15,141.16 218.35,139.78 218.42,139.29 218.60,142.42 218.72,142.41 218.88,141.20 219.05,143.21 219.21,140.43 219.32,143.78 219.53,141.74 219.63,141.62 219.82,141.72 219.95,141.56 220.12,146.58 220.26,138.71 220.39,142.19 220.56,144.27 220.67,143.29 220.82,141.36 220.99,145.32 221.18,139.95 221.28,139.52 221.44,143.16 221.64,139.30 221.75,137.57 221.90,143.85 222.02,143.65 222.20,143.62 222.36,141.32 222.50,142.63 222.67,140.47 222.81,145.66 222.98,143.89 223.12,143.82 223.25,138.72 223.42,144.01 223.59,145.35 223.71,144.85 223.82,144.06 224.00,142.59 224.15,141.97 224.36,143.80 224.47,143.41 224.57,143.17 224.75,142.16 224.94,145.97 225.02,140.60 225.19,142.81 225.35,141.79 225.50,144.88 225.63,145.66 225.80,145.35 225.91,144.46 226.08,140.42 226.23,147.03 226.39,144.12 226.54,142.97 226.70,143.26 226.84,142.61 226.99,144.09 227.16,143.91 227.33,142.68 227.48,138.57 227.57,143.37 227.76,144.37 227.92,144.49 228.04,143.26 228.21,144.43 228.34,145.54 228.51,142.77 228.60,146.43 228.81,140.07 228.94,141.41 229.08,142.11 229.24,139.27 229.43,142.01 229.58,146.24 229.71,146.26 229.87,144.16 229.99,147.22 230.11,144.50 230.24,143.17 230.45,144.58 230.59,143.91 230.75,145.57 230.90,141.45 231.08,146.13 231.17,143.46 231.33,145.93 231.56,141.53 231.67,143.65 231.79,144.60 231.89,146.16 232.07,142.28 232.24,147.65 232.40,145.50 232.55,143.67 232.69,146.92 232.88,144.90 232.96,146.89 233.14,149.07 233.29,146.22 233.46,143.85 233.60,144.04 233.76,145.90 233.90,145.37 234.08,143.32 234.20,143.64 234.34,146.09 234.50,149.18 234.65,140.07 234.81,146.22 234.96,144.52 235.10,146.34 235.25,146.51 235.39,145.03 235.56,143.09 235.71,142.40 235.83,141.54 236.00,147.20 236.14,144.60 236.30,144.00 236.81,144.49 235.97,142.02 236.06,144.19 238.49,145.21 236.73,144.07 237.04,138.34 238.09,142.84 237.27,138.16 237.66,135.81 237.95,137.86 238.86,139.15 237.05,141.70 237.71,140.66 238.31,140.61 239.14,143.67 238.35,148.43 238.96,144.25 238.98,146.39 239.14,145.75 239.34,150.43 239.44,142.27 239.70,147.70 239.76,143.47 239.94,144.76 240.08,145.69 240.15,151.62 240.30,144.58 240.52,142.61 240.61,148.36 240.78,144.58 240.94,145.69 241.07,146.12 241.29,146.38 241.43,145.95 241.56,146.78 241.72,147.03 241.82,147.91 242.03,145.67 242.12,145.14 242.35,144.62 242.43,147.61 242.58,146.52 242.79,147.63 242.92,147.65 243.02,149.73 243.22,147.15 243.35,148.15 243.50,144.73 243.67,145.00 243.82,146.40 243.99,144.84 244.12,148.26 244.26,144.73 244.40,147.25 244.60,142.83 244.67,145.26 244.92,146.66 245.06,146.84 245.18,144.17 245.30,147.53 245.48,149.07 245.62,148.52 245.77,146.24 245.95,146.39 246.05,145.36 246.21,148.56 246.33,150.01 246.46,146.58 246.65,144.55 246.81,147.89 246.96,148.80 247.11,142.82 247.22,147.84 247.41,151.40 247.57,149.07 247.73,148.62 247.83,148.38 247.99,149.55 248.14,146.08 248.29,146.27 248.42,148.47 248.59,146.59 248.78,148.25 248.88,144.50 249.02,149.15 249.20,149.33 249.34,147.96 249.51,148.18 249.64,150.72 249.80,146.07 249.94,146.38 250.08,146.09 250.26,147.27 250.40,146.27 250.55,148.10 250.71,146.94 250.84,145.58 251.00,145.42 251.15,150.21 251.32,148.02 251.42,147.77 251.59,148.23 251.76,148.06 251.89,149.52 252.05,149.21 252.21,147.24 252.36,146.86 252.47,146.43 252.63,146.16 252.76,150.75 252.96,146.77 253.10,144.89 253.27,146.93 253.40,147.04 253.53,148.98 253.71,146.91 253.83,149.37 254.00,149.13 254.15,150.66 254.31,152.23 254.46,153.42 254.59,150.86 254.74,146.55 254.90,147.87 255.04,149.01 255.21,152.16 255.35,149.78 255.52,150.70 255.68,148.35 255.79,149.68 255.94,149.91 256.11,147.91 256.26,150.05 256.40,150.57 256.53,148.47 256.73,150.51 256.85,151.61 256.98,148.91 257.12,148.81 257.32,148.30 257.45,147.78 257.60,149.13 257.74,148.17 257.90,148.36 258.04,147.58 258.17,146.29 258.39,147.34 258.51,149.53 258.65,146.95 258.79,147.88 258.94,151.83 259.13,150.96 259.26,147.85 259.38,150.09 259.56,147.96 259.71,151.88 259.86,148.11 260.00,149.27 260.15,151.52 260.30,147.74 260.45,151.41 260.58,147.79 260.74,149.62 260.90,148.72 261.03,149.09 261.20,149.53 261.35,149.15 261.51,147.55 261.65,150.79 261.80,150.56 261.95,151.55 262.11,151.73 262.26,147.07 262.39,151.59 262.53,151.63 262.69,148.51 262.82,151.21 262.99,151.97 263.16,148.55 263.31,147.13 263.47,148.89 263.60,154.30 263.75,149.95 263.89,147.49 264.04,149.16 264.20,147.91 264.37,148.95 264.51,149.81 264.62,145.30 264.81,150.31 264.95,152.13 265.09,149.40 265.25,149.10 265.41,151.64 265.55,147.64 265.69,147.69 265.91,147.47 265.99,149.59 266.16,150.55 266.32,149.75 266.44,150.86 266.61,151.36 266.74,150.81 266.90,148.60 267.04,149.55 267.23,152.15 267.33,148.26 267.51,149.63 267.65,149.38 267.77,149.80 267.98,148.30 268.09,147.85 268.25,154.52 268.40,151.80 268.53,149.00 268.69,150.13 268.85,151.40 268.98,149.69 269.15,151.34 269.32,149.27 269.43,149.72 269.57,150.21 269.75,149.60 269.91,146.23 270.06,150.45 270.18,150.88 270.31,151.27 270.51,148.79 270.66,151.08 270.82,150.89 270.93,147.54 271.11,146.82 271.27,151.39 271.37,148.98 271.57,152.33 271.72,154.28 271.86,149.68 272.01,149.52 272.16,150.69 272.30,151.87 272.43,148.82 272.58,152.88 272.75,152.47 272.89,151.93 273.07,149.92 273.19,152.40 273.35,152.32 273.47,148.86 273.66,154.45 273.79,150.43 273.97,151.58 274.07,150.09 274.26,151.65 274.39,152.98 274.54,149.67 274.73,148.26 274.87,150.32 274.99,148.89 275.17,149.84 275.29,150.93 275.46,151.06 275.57,153.37 275.74,149.49 275.89,151.83 276.04,150.39 276.17,153.58 276.32,155.57 276.50,151.83 276.66,154.17 276.80,150.47 276.94,148.68 277.07,149.26 277.24,148.76 277.39,149.84 277.54,151.06 277.70,153.43 277.85,152.70 278.01,152.32 278.15,150.84 278.29,150.36 278.45,151.66 278.59,151.86 278.72,152.08 278.89,152.29 279.02,151.49 279.17,148.46 279.34,149.85 279.49,150.36 279.66,154.64 279.79,151.08 279.96,152.96 280.12,154.31 280.25,152.42 280.41,151.22 280.54,151.41 280.71,150.21 280.85,152.47 281.00,153.87 281.13,152.95 281.28,153.31 281.44,153.24 281.60,155.43 281.77,151.01 281.87,152.37 282.04,153.31 282.19,154.24 282.39,148.09 282.50,151.31 282.64,151.86 282.81,150.50 282.93,153.68 283.11,152.64 283.22,151.63 283.43,149.57 283.55,150.12 283.69,150.71 283.83,153.15 284.00,150.36 284.15,148.95 284.29,150.01 284.47,151.48 284.59,155.30 284.75,156.72 284.90,151.73 285.07,154.14 285.19,154.93 285.35,154.76 285.50,152.43 285.66,150.46 285.77,151.85 285.97,149.57 286.10,153.11 286.24,154.04 286.40,149.58 286.52,152.69 286.69,153.29 286.85,154.91 287.02,155.14 287.15,154.19 287.30,151.71 287.45,152.26 287.61,154.91 287.74,151.89 287.91,152.85 288.05,155.55 288.19,153.17 288.34,150.67 288.49,152.49 288.66,154.07 288.84,152.70 288.95,154.97 289.09,155.19 289.26,151.97 289.41,152.24 289.54,152.92 289.72,151.10 289.86,153.75 290.01,152.84 290.15,154.47 290.30,152.17 290.46,151.72 290.58,156.27 290.74,151.75 290.90,152.25 291.03,152.02 291.22,152.75 291.34,151.75 291.49,153.22 291.65,152.13 291.82,152.63 291.95,153.94 292.09,154.52 292.24,154.15 292.40,152.16 292.54,154.06 292.73,153.21 292.87,153.25 292.96,150.58 293.14,154.58 293.30,153.24 293.48,156.33 293.58,154.57 293.74,151.66 293.91,151.25 294.04,155.47 294.20,152.11 294.34,154.72 294.51,153.10 294.64,157.12 294.80,153.76 294.93,156.17 295.11,155.88 295.26,152.91 295.40,153.15 295.55,156.18 295.70,153.73 295.85,152.31 296.00,155.77 296.15,158.06 296.30,153.75 296.44,156.16 296.59,153.58 296.74,156.12 296.91,153.49 297.05,156.13 297.22,154.84 297.35,153.65 297.50,154.37 297.64,153.09 297.80,152.14 297.94,152.28 298.09,153.95 298.25,152.31 298.41,154.82 298.55,154.97 298.70,154.88 298.85,153.28 299.00,154.20 299.15,154.06 299.30,156.30 299.45,152.77 299.60,153.47 299.75,153.72 299.90,153.87 300.05,152.87 300.20,153.07 300.35,155.80 300.50,153.06 300.65,155.63 300.80,157.49 300.95,156.23 301.10,151.12 301.25,155.40 301.39,154.91 301.30,154.87 301.50,150.83 302.13,154.32 302.38,150.81 302.08,154.31 302.63,153.49 302.34,155.48 302.67,150.82 302.67,149.46 302.17,154.24 303.42,154.48 302.91,152.92 303.52,156.33 303.32,155.74 303.65,152.51 303.81,154.08 303.95,153.96 304.09,154.54 304.26,155.07 304.40,153.63 304.54,154.49 304.70,155.81 304.85,154.75 304.99,154.45 305.17,154.43 305.34,154.79 305.44,151.83 305.60,155.28 305.73,153.35 305.87,155.25 306.08,152.68 306.18,156.66 306.36,155.56 306.47,152.97 306.63,155.62 306.81,154.01 306.96,158.26 307.11,156.13 307.26,154.04 307.40,155.75 307.57,155.36 307.74,157.41 307.86,156.06 308.00,156.35 308.12,153.70 308.29,156.87 308.44,159.04 308.63,156.68 308.71,155.59 308.88,155.96 309.02,154.15 309.22,156.06 309.33,153.98 309.46,155.88 309.60,155.20 309.81,154.51 309.91,156.86 310.12,153.48 310.27,155.89 310.37,153.81 310.54,159.02 310.70,159.28 310.82,157.46 310.97,159.21 311.14,157.10 311.30,157.04 311.46,155.48 311.56,154.74 311.75,156.44 311.90,155.38 312.04,155.57 312.19,157.51 312.37,156.14 312.53,153.81 312.64,156.04 312.80,155.17 312.91,155.97 313.09,154.68 313.26,158.47 313.40,159.65 313.56,154.74 313.70,157.65 313.85,157.60 314.01,154.89 314.17,156.84 314.26,159.01 314.44,158.11 314.53,159.40 314.75,154.87 314.89,155.58 315.04,157.31 315.23,157.44 315.36,156.92 315.52,156.28 315.66,156.27 315.84,155.97 315.94,157.73 316.09,152.51 316.25,159.65 316.45,156.21" fill="none" stroke="#ff7a14" stroke-width="0.55" stroke-linejoin="round"/>
<rect x="28.7" y="1.7" width="288.20" height="213.30" fill="none" stroke="#000" stroke-width="1.6"/>
<line x1="28.70" y1="215.0" x2="28.70" y2="219.6" stroke="#000" stroke-width="1.6"/>
<text x="28.85" y="231.5" font-family="Liberation Serif" font-weight="bold" font-size="11.6" letter-spacing="0.3" text-anchor="middle">30</text>
<line x1="57.52" y1="215.0" x2="57.52" y2="217.6" stroke="#000" stroke-width="1.6"/>
<line x1="86.34" y1="215.0" x2="86.34" y2="219.6" stroke="#000" stroke-width="1.6"/>
<text x="86.49" y="231.5" font-family="Liberation Serif" font-weight="bold" font-size="11.6" letter-spacing="0.3" text-anchor="middle">40</text>
<line x1="115.16" y1="215.0" x2="115.16" y2="217.6" stroke="#000" stroke-width="1.6"/>
<line x1="143.98" y1="215.0" x2="143.98" y2="219.6" stroke="#000" stroke-width="1.6"/>
<text x="144.13" y="231.5" font-family="Liberation Serif" font-weight="bold" font-size="11.6" letter-spacing="0.3" text-anchor="middle">50</text>
<line x1="172.80" y1="215.0" x2="172.80" y2="217.6" stroke="#000" stroke-width="1.6"/>
<line x1="201.62" y1="215.0" x2="201.62" y2="219.6" stroke="#000" stroke-width="1.6"/>
<text x="201.77" y="231.5" font-family="Liberation Serif" font-weight="bold" font-size="11.6" letter-spacing="0.3" text-anchor="middle">60</text>
<line x1="230.44" y1="215.0" x2="230.44" y2="217.6" stroke="#000" stroke-width="1.6"/>
<line x1="259.26" y1="215.0" x2="259.26" y2="219.6" stroke="#000" stroke-width="1.6"/>
<text x="259.41" y="231.5" font-family="Liberation Serif" font-weight="bold" font-size="11.6" letter-spacing="0.3" text-anchor="middle">70</text>
<line x1="288.08" y1="215.0" x2="288.08" y2="217.6" stroke="#000" stroke-width="1.6"/>
<line x1="316.90" y1="215.0" x2="316.90" y2="219.6" stroke="#000" stroke-width="1.6"/>
<text x="317.05" y="231.5" font-family="Liberation Serif" font-weight="bold" font-size="11.6" letter-spacing="0.3" text-anchor="middle">80</text>
<text x="124.6" y="251" font-family="Liberation Serif" font-weight="bold" font-size="11.6" letter-spacing="0.2">2 Theta (degree)</text>
<text transform="translate(10.4,107.5) rotate(-90)" font-family="Liberation Serif" font-weight="bold" font-size="11.7" letter-spacing="0.25" text-anchor="middle">Intensity (a.u.)</text>
<text x="0" y="21.9" font-family="Liberation Serif" font-weight="bold" font-size="26.6">a</text>
<text x="35.4" y="15.9" font-family="Liberation Serif" font-weight="bold" font-size="11.6" letter-spacing="0.55">Ag(111)</text>
<text x="104.0" y="80.4" font-family="Liberation Serif" font-weight="bold" font-size="11.6" letter-spacing="0.25">Ag(200)</text>
<text x="219.1" y="124.2" font-family="Liberation Serif" font-weight="bold" font-size="11.6" letter-spacing="0.25">Ag(220)</text>
<text x="272.1" y="134.8" font-family="Liberation Serif" font-weight="bold" font-size="11.6" letter-spacing="0.2">Ag(311)</text>
<rect x="205.2" y="19.8" width="103.6" height="41.6" fill="#000"/>
<rect x="202.2" y="16.8" width="103.6" height="41.6" fill="#fff" stroke="#9a9a9a" stroke-width="1"/>
<line x1="204.1" y1="24.5" x2="226.5" y2="24.5" stroke="#111" stroke-width="1" opacity="0.5"/>
<text x="229.6" y="28.1" font-family="Liberation Serif" font-weight="bold" font-size="11.6" letter-spacing="0.2">Pristine CP</text>
<line x1="204.1" y1="39.3" x2="226.5" y2="39.3" stroke="#1f78ff" stroke-width="1" opacity="0.5"/>
<text x="229.6" y="42.9" font-family="Liberation Serif" font-weight="bold" font-size="11.6" letter-spacing="0.2">AgNPs-CP</text>
<line x1="204.1" y1="54.1" x2="226.5" y2="54.1" stroke="#ff7a14" stroke-width="1" opacity="0.5"/>
<text x="229.6" y="57.7" font-family="Liberation Serif" font-weight="bold" font-size="11.6" letter-spacing="0.2">AgNPs-LA-CP</text>
<g stroke="#000" stroke-width="1" opacity="0.6"><line x1="412.61" y1="65.41" x2="412.61" y2="83.22"/><line x1="410.01" y1="65.41" x2="415.21" y2="65.41"/><line x1="410.01" y1="83.22" x2="415.21" y2="83.22"/></g>
<g stroke="#000" stroke-width="1" opacity="0.6"><line x1="532.65" y1="126.85" x2="532.65" y2="146.44"/><line x1="530.05" y1="126.85" x2="535.25" y2="126.85"/><line x1="530.05" y1="146.44" x2="535.25" y2="146.44"/></g>
<g stroke="#000" stroke-width="1" opacity="0.6"><line x1="652.69" y1="141.99" x2="652.69" y2="159.80"/><line x1="650.09" y1="141.99" x2="655.29" y2="141.99"/><line x1="650.09" y1="159.80" x2="655.29" y2="159.80"/></g>
<polyline points="412.61,74.31 532.65,136.65 652.69,150.89" fill="none" stroke="#000" stroke-width="2"/>
<rect x="410.21" y="71.91" width="4.80" height="4.80" fill="#000"/>
<rect x="530.25" y="134.25" width="4.80" height="4.80" fill="#000"/>
<rect x="650.29" y="148.49" width="4.80" height="4.80" fill="#000"/>
<g stroke="#ff0000" stroke-width="1" opacity="0.6"><line x1="412.61" y1="29.79" x2="412.61" y2="51.16"/><line x1="410.01" y1="29.79" x2="415.21" y2="29.79"/><line x1="410.01" y1="51.16" x2="415.21" y2="51.16"/></g>
<g stroke="#ff0000" stroke-width="1" opacity="0.6"><line x1="532.65" y1="83.39" x2="532.65" y2="104.41"/><line x1="530.05" y1="83.39" x2="535.25" y2="83.39"/><line x1="530.05" y1="104.41" x2="535.25" y2="104.41"/></g>
<g stroke="#ff0000" stroke-width="1" opacity="0.6"><line x1="652.69" y1="104.94" x2="652.69" y2="125.60"/><line x1="650.09" y1="104.94" x2="655.29" y2="104.94"/><line x1="650.09" y1="125.60" x2="655.29" y2="125.60"/></g>
<polyline points="412.61,40.47 532.65,93.90 652.69,115.27" fill="none" stroke="#ff0000" stroke-width="2"/>
<circle cx="412.61" cy="40.47" r="2.90" fill="#ff0000"/>
<circle cx="532.65" cy="93.90" r="2.90" fill="#ff0000"/>
<circle cx="652.69" cy="115.27" r="2.90" fill="#ff0000"/>
<g stroke="#1f78ff" stroke-width="1" opacity="0.6"><line x1="412.61" y1="72.17" x2="412.61" y2="90.70"/><line x1="410.01" y1="72.17" x2="415.21" y2="72.17"/><line x1="410.01" y1="90.70" x2="415.21" y2="90.70"/></g>
<g stroke="#1f78ff" stroke-width="1" opacity="0.6"><line x1="532.65" y1="136.65" x2="532.65" y2="158.02"/><line x1="530.05" y1="136.65" x2="535.25" y2="136.65"/><line x1="530.05" y1="158.02" x2="535.25" y2="158.02"/></g>
<g stroke="#1f78ff" stroke-width="1" opacity="0.6"><line x1="652.69" y1="157.13" x2="652.69" y2="180.28"/><line x1="650.09" y1="157.13" x2="655.29" y2="157.13"/><line x1="650.09" y1="180.28" x2="655.29" y2="180.28"/></g>
<polyline points="412.61,81.44 532.65,147.33 652.69,168.70" fill="none" stroke="#1f78ff" stroke-width="2"/>
<polygon points="409.01,83.84 416.21,83.84 412.61,77.53" fill="#1f78ff"/>
<polygon points="529.05,149.73 536.25,149.73 532.65,143.43" fill="#1f78ff"/>
<polygon points="649.09,171.10 656.29,171.10 652.69,164.80" fill="#1f78ff"/>
<g stroke="#ff7a14" stroke-width="1" opacity="0.6"><line x1="412.61" y1="131.30" x2="412.61" y2="152.67"/><line x1="410.01" y1="131.30" x2="415.21" y2="131.30"/><line x1="410.01" y1="152.67" x2="415.21" y2="152.67"/></g>
<g stroke="#ff7a14" stroke-width="1" opacity="0.6"><line x1="532.65" y1="172.27" x2="532.65" y2="190.08"/><line x1="530.05" y1="172.27" x2="535.25" y2="172.27"/><line x1="530.05" y1="190.08" x2="535.25" y2="190.08"/></g>
<g stroke="#ff7a14" stroke-width="1" opacity="0.6"><line x1="652.69" y1="190.43" x2="652.69" y2="207.53"/><line x1="650.09" y1="190.43" x2="655.29" y2="190.43"/><line x1="650.09" y1="207.53" x2="655.29" y2="207.53"/></g>
<polyline points="412.61,141.99 532.65,181.17 652.69,198.98" fill="none" stroke="#ff7a14" stroke-width="2"/>
<polygon points="409.01,139.59 416.21,139.59 412.61,145.89" fill="#ff7a14"/>
<polygon points="529.05,178.77 536.25,178.77 532.65,185.07" fill="#ff7a14"/>
<polygon points="649.09,196.58 656.29,196.58 652.69,202.88" fill="#ff7a14"/>
<rect x="382.95" y="2.0" width="300.1" height="213.20" fill="none" stroke="#000" stroke-width="2"/>
<line x1="382.60" y1="215.2" x2="382.60" y2="218.0" stroke="#000" stroke-width="2"/>
<line x1="412.61" y1="215.2" x2="412.61" y2="220.0" stroke="#000" stroke-width="2"/>
<text x="412.61" y="232.4" font-family="Liberation Serif" font-weight="bold" font-size="12.8" text-anchor="middle">5</text>
<line x1="442.62" y1="215.2" x2="442.62" y2="218.0" stroke="#000" stroke-width="2"/>
<line x1="472.63" y1="215.2" x2="472.63" y2="220.0" stroke="#000" stroke-width="2"/>
<text x="472.63" y="232.4" font-family="Liberation Serif" font-weight="bold" font-size="12.8" text-anchor="middle">6</text>
<line x1="502.64" y1="215.2" x2="502.64" y2="218.0" stroke="#000" stroke-width="2"/>
<line x1="532.65" y1="215.2" x2="532.65" y2="220.0" stroke="#000" stroke-width="2"/>
<text x="532.65" y="232.4" font-family="Liberation Serif" font-weight="bold" font-size="12.8" text-anchor="middle">7</text>
<line x1="562.66" y1="215.2" x2="562.66" y2="218.0" stroke="#000" stroke-width="2"/>
<line x1="592.67" y1="215.2" x2="592.67" y2="220.0" stroke="#000" stroke-width="2"/>
<text x="592.67" y="232.4" font-family="Liberation Serif" font-weight="bold" font-size="12.8" text-anchor="middle">8</text>
<line x1="622.68" y1="215.2" x2="622.68" y2="218.0" stroke="#000" stroke-width="2"/>
<line x1="652.69" y1="215.2" x2="652.69" y2="220.0" stroke="#000" stroke-width="2"/>
<text x="652.69" y="232.4" font-family="Liberation Serif" font-weight="bold" font-size="12.8" text-anchor="middle">9</text>
<line x1="682.70" y1="215.2" x2="682.70" y2="218.0" stroke="#000" stroke-width="2"/>
<line x1="377.6" y1="19.10" x2="382.6" y2="19.10" stroke="#000" stroke-width="2"/>
<text x="374.6" y="23.00" font-family="Liberation Serif" font-weight="bold" font-size="12.5" text-anchor="end">-14</text>
<line x1="377.6" y1="54.72" x2="382.6" y2="54.72" stroke="#000" stroke-width="2"/>
<text x="374.6" y="58.62" font-family="Liberation Serif" font-weight="bold" font-size="12.5" text-anchor="end">-16</text>
<line x1="377.6" y1="90.34" x2="382.6" y2="90.34" stroke="#000" stroke-width="2"/>
<text x="374.6" y="94.24" font-family="Liberation Serif" font-weight="bold" font-size="12.5" text-anchor="end">-18</text>
<line x1="377.6" y1="125.96" x2="382.6" y2="125.96" stroke="#000" stroke-width="2"/>
<text x="374.6" y="129.86" font-family="Liberation Serif" font-weight="bold" font-size="12.5" text-anchor="end">-20</text>
<line x1="377.6" y1="161.58" x2="382.6" y2="161.58" stroke="#000" stroke-width="2"/>
<text x="374.6" y="165.48" font-family="Liberation Serif" font-weight="bold" font-size="12.5" text-anchor="end">-22</text>
<line x1="377.6" y1="197.20" x2="382.6" y2="197.20" stroke="#000" stroke-width="2"/>
<text x="374.6" y="201.10" font-family="Liberation Serif" font-weight="bold" font-size="12.5" text-anchor="end">-24</text>
<text x="532.8" y="254.8" font-family="Liberation Serif" font-weight="bold" font-size="13" text-anchor="middle">pH</text>
<text transform="translate(347.3,105.1) rotate(-90)" font-family="Liberation Serif" font-weight="bold" font-size="12.8" text-anchor="middle">Zeta Potential (mV)</text>
<text x="335.5" y="22.1" font-family="Liberation Serif" font-weight="bold" font-size="26.6">b</text>
<rect x="558.6" y="17.8" width="114.3" height="70" fill="#000"/>
<rect x="555.3" y="14.6" width="114.3" height="70" fill="#fff" stroke="#9a9a9a" stroke-width="1"/>
<line x1="558.5" y1="25.80" x2="585.7" y2="25.80" stroke="#000" stroke-width="2"/>
<rect x="569.70" y="23.40" width="4.80" height="4.80" fill="#000"/>
<text x="588.3" y="29.60" font-family="Liberation Serif" font-weight="bold" font-size="12.5">Pristine CP</text>
<line x1="558.5" y1="43.25" x2="585.7" y2="43.25" stroke="#ff0000" stroke-width="2"/>
<circle cx="572.10" cy="43.25" r="2.90" fill="#ff0000"/>
<text x="588.3" y="47.05" font-family="Liberation Serif" font-weight="bold" font-size="12.5">LA-CP</text>
<line x1="558.5" y1="60.70" x2="585.7" y2="60.70" stroke="#1f78ff" stroke-width="2"/>
<polygon points="568.50,63.10 575.70,63.10 572.10,56.80" fill="#1f78ff"/>
<text x="588.3" y="64.50" font-family="Liberation Serif" font-weight="bold" font-size="12.5">AgNPs-CP</text>
<line x1="558.5" y1="78.15" x2="585.7" y2="78.15" stroke="#ff7a14" stroke-width="2"/>
<polygon points="568.50,75.75 575.70,75.75 572.10,82.05" fill="#ff7a14"/>
<text x="588.3" y="81.95" font-family="Liberation Serif" font-weight="bold" font-size="12.5">AgNPs-LA-CP</text>
</svg>
</div></body></html>
